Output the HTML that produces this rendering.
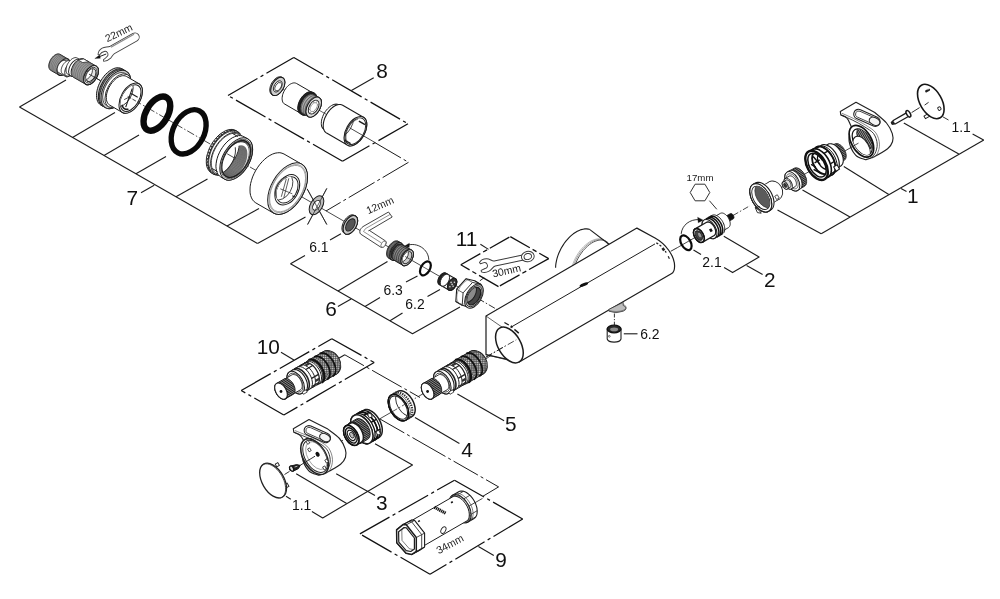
<!DOCTYPE html>
<html><head><meta charset="utf-8"><title>Exploded view</title>
<style>html,body{margin:0;padding:0;background:#fff;}svg{display:block;filter:blur(0.35px)}text{font-family:"Liberation Sans",sans-serif;}</style>
</head><body>
<svg width="1000" height="599" viewBox="0 0 1000 599">
<rect width="1000" height="599" fill="#fff"/>
<line x1="95.0" y1="77.5" x2="250.0" y2="167.0" stroke="#1c1c1c" stroke-width="0.8" stroke-dasharray="13 2.5 2 2.5" stroke-linecap="butt"/>
<line x1="250.0" y1="167.0" x2="478.0" y2="298.5" stroke="#1c1c1c" stroke-width="0.8" stroke-linecap="butt"/>
<line x1="478.0" y1="298.5" x2="497.0" y2="309.5" stroke="#1c1c1c" stroke-width="0.9" stroke-dasharray="7 2 1.5 2" stroke-linecap="butt"/>
<line x1="19.5" y1="107.0" x2="257.5" y2="243.5" stroke="#1c1c1c" stroke-width="1.12" stroke-linecap="butt"/>
<line x1="19.5" y1="107.0" x2="66.0" y2="80.0" stroke="#1c1c1c" stroke-width="1.12" stroke-linecap="butt"/>
<line x1="72.5" y1="137.4" x2="115.0" y2="112.5" stroke="#1c1c1c" stroke-width="1.12" stroke-linecap="butt"/>
<line x1="104.0" y1="155.5" x2="139.0" y2="135.0" stroke="#1c1c1c" stroke-width="1.12" stroke-linecap="butt"/>
<line x1="136.0" y1="173.8" x2="166.0" y2="156.5" stroke="#1c1c1c" stroke-width="1.12" stroke-linecap="butt"/>
<line x1="176.0" y1="196.8" x2="207.5" y2="179.0" stroke="#1c1c1c" stroke-width="1.12" stroke-linecap="butt"/>
<line x1="227.0" y1="226.0" x2="259.0" y2="208.5" stroke="#1c1c1c" stroke-width="1.12" stroke-linecap="butt"/>
<line x1="257.5" y1="243.5" x2="305.5" y2="217.0" stroke="#1c1c1c" stroke-width="1.12" stroke-linecap="butt"/>
<line x1="141.0" y1="192.8" x2="154.2" y2="185.3" stroke="#1c1c1c" stroke-width="1.12" stroke-linecap="butt"/>
<text x="132.2" y="204.6" font-size="20.8" fill="#111" text-anchor="middle" font-weight="normal">7</text>
<line x1="228.0" y1="95.5" x2="293.8" y2="57.5" stroke="#111" stroke-width="1.25" stroke-dasharray="34 3.6 3.2 3.6" stroke-dashoffset="0"/>
<line x1="293.8" y1="57.5" x2="408.0" y2="123.8" stroke="#111" stroke-width="1.25" stroke-dasharray="34 3.6 3.2 3.6" stroke-dashoffset="0"/>
<line x1="408.0" y1="123.8" x2="342.5" y2="161.2" stroke="#111" stroke-width="1.25" stroke-dasharray="34 3.6 3.2 3.6" stroke-dashoffset="0"/>
<line x1="342.5" y1="161.2" x2="228.0" y2="95.5" stroke="#111" stroke-width="1.25" stroke-dasharray="34 3.6 3.2 3.6" stroke-dashoffset="0"/>
<line x1="351.4" y1="90.5" x2="373.7" y2="77.8" stroke="#1c1c1c" stroke-width="1.12" stroke-linecap="butt"/>
<text x="382.1" y="78.4" font-size="20.8" fill="#111" text-anchor="middle" font-weight="normal">8</text>
<line x1="375.0" y1="142.7" x2="408.5" y2="162.3" stroke="#1c1c1c" stroke-width="1.0" stroke-dasharray="30 3.2 3 3.2" stroke-linecap="butt"/>
<line x1="408.5" y1="162.3" x2="326.0" y2="211.0" stroke="#1c1c1c" stroke-width="1.0" stroke-dasharray="30 3.2 3 3.2" stroke-linecap="butt"/>
<polyline points="290.5,263.8 412.5,333.8 460.0,307.0" fill="none" stroke="#1c1c1c" stroke-width="1.12" stroke-linejoin="round"/>
<line x1="290.5" y1="263.8" x2="305.0" y2="255.5" stroke="#1c1c1c" stroke-width="1.12" stroke-linecap="butt"/>
<line x1="330.0" y1="240.0" x2="341.0" y2="233.8" stroke="#1c1c1c" stroke-width="1.12" stroke-linecap="butt"/>
<text x="318.9" y="251.7" font-size="13.9" fill="#111" text-anchor="middle" font-weight="normal">6.1</text>
<line x1="338.0" y1="291.0" x2="387.5" y2="261.5" stroke="#1c1c1c" stroke-width="1.12" stroke-linecap="butt"/>
<line x1="365.0" y1="306.5" x2="380.0" y2="297.5" stroke="#1c1c1c" stroke-width="1.12" stroke-linecap="butt"/>
<line x1="406.0" y1="282.0" x2="417.5" y2="276.0" stroke="#1c1c1c" stroke-width="1.12" stroke-linecap="butt"/>
<text x="393.2" y="295.2" font-size="13.9" fill="#111" text-anchor="middle" font-weight="normal">6.3</text>
<line x1="390.0" y1="320.8" x2="402.5" y2="313.0" stroke="#1c1c1c" stroke-width="1.12" stroke-linecap="butt"/>
<line x1="427.5" y1="296.5" x2="440.0" y2="289.5" stroke="#1c1c1c" stroke-width="1.12" stroke-linecap="butt"/>
<text x="415.0" y="308.5" font-size="13.9" fill="#111" text-anchor="middle" font-weight="normal">6.2</text>
<line x1="337.9" y1="306.6" x2="351.1" y2="299.1" stroke="#1c1c1c" stroke-width="1.12" stroke-linecap="butt"/>
<text x="331.0" y="316.0" font-size="20.8" fill="#111" text-anchor="middle" font-weight="normal">6</text>
<line x1="460.8" y1="264.8" x2="510.3" y2="236.6" stroke="#111" stroke-width="1.25" stroke-dasharray="22.5 3.2 4.5 3.2" stroke-dashoffset="0"/>
<line x1="510.3" y1="236.6" x2="548.7" y2="258.6" stroke="#111" stroke-width="1.25" stroke-dasharray="22.5 3.2 4.5 3.2" stroke-dashoffset="0"/>
<line x1="548.7" y1="258.6" x2="498.5" y2="286.6" stroke="#111" stroke-width="1.25" stroke-dasharray="22.5 3.2 4.5 3.2" stroke-dashoffset="0"/>
<line x1="498.5" y1="286.6" x2="460.8" y2="264.8" stroke="#111" stroke-width="1.25" stroke-dasharray="22.5 3.2 4.5 3.2" stroke-dashoffset="0"/>
<line x1="480.4" y1="244.2" x2="488.5" y2="249.4" stroke="#1c1c1c" stroke-width="1.12" stroke-linecap="butt"/>
<text x="466.6" y="246.0" font-size="20.8" fill="#111" text-anchor="middle" font-weight="normal">11</text>
<text x="507.4" y="274.3" font-size="10.5" fill="#1a1a1a" text-anchor="middle" font-weight="normal" transform="rotate(-13 507.4 274.3)">30mm</text>
<polyline points="723.8,236.2 759.1,257.0 732.6,272.6 724.1,267.6" fill="none" stroke="#1c1c1c" stroke-width="1.12" stroke-linejoin="round"/>
<line x1="701.0" y1="254.5" x2="693.5" y2="250.0" stroke="#1c1c1c" stroke-width="1.12" stroke-linecap="butt"/>
<text x="712.0" y="266.6" font-size="13.9" fill="#111" text-anchor="middle" font-weight="normal">2.1</text>
<line x1="746.6" y1="265.6" x2="762.6" y2="274.6" stroke="#1c1c1c" stroke-width="1.12" stroke-linecap="butt"/>
<text x="769.7" y="287.1" font-size="20.8" fill="#111" text-anchor="middle" font-weight="normal">2</text>
<line x1="821.2" y1="233.8" x2="983.8" y2="140.0" stroke="#1c1c1c" stroke-width="1.12" stroke-linecap="butt"/>
<line x1="777.5" y1="210.0" x2="821.2" y2="233.8" stroke="#1c1c1c" stroke-width="1.12" stroke-linecap="butt"/>
<line x1="802.5" y1="190.0" x2="850.0" y2="217.0" stroke="#1c1c1c" stroke-width="1.12" stroke-linecap="butt"/>
<line x1="843.8" y1="166.5" x2="888.8" y2="194.5" stroke="#1c1c1c" stroke-width="1.12" stroke-linecap="butt"/>
<line x1="903.8" y1="122.9" x2="958.8" y2="154.1" stroke="#1c1c1c" stroke-width="1.12" stroke-linecap="butt"/>
<line x1="983.6" y1="140.0" x2="972.6" y2="133.9" stroke="#1c1c1c" stroke-width="1.12" stroke-linecap="butt"/>
<text x="961.1" y="131.6" font-size="13.9" fill="#111" text-anchor="middle" font-weight="normal">1.1</text>
<line x1="901.0" y1="188.6" x2="906.5" y2="191.4" stroke="#1c1c1c" stroke-width="1.12" stroke-linecap="butt"/>
<text x="912.9" y="202.8" font-size="20.8" fill="#111" text-anchor="middle" font-weight="normal">1</text>
<text x="700.0" y="181.0" font-size="9.7" fill="#1a1a1a" text-anchor="middle" font-weight="normal">17mm</text>
<polygon points="690.2,192.5 695.1,184.2 704.9,184.2 709.8,192.5 704.9,200.8 695.1,200.8" fill="none" stroke="#333" stroke-width="1.0" stroke-linejoin="round"/>
<line x1="709.4" y1="200.7" x2="716.8" y2="209.3" stroke="#333" stroke-width="1.0" stroke-linecap="butt"/>
<line x1="623.8" y1="333.8" x2="637.5" y2="333.8" stroke="#1c1c1c" stroke-width="1.12" stroke-linecap="butt"/>
<text x="649.8" y="338.8" font-size="13.9" fill="#111" text-anchor="middle" font-weight="normal">6.2</text>
<line x1="241.2" y1="390.5" x2="331.8" y2="338.8" stroke="#111" stroke-width="1.25" stroke-dasharray="34 3.6 3.2 3.6" stroke-dashoffset="0"/>
<line x1="331.8" y1="338.8" x2="374.2" y2="362.5" stroke="#111" stroke-width="1.25" stroke-dasharray="34 3.6 3.2 3.6" stroke-dashoffset="0"/>
<line x1="374.2" y1="362.5" x2="283.8" y2="415.0" stroke="#111" stroke-width="1.25" stroke-dasharray="34 3.6 3.2 3.6" stroke-dashoffset="0"/>
<line x1="283.8" y1="415.0" x2="241.2" y2="390.5" stroke="#111" stroke-width="1.25" stroke-dasharray="34 3.6 3.2 3.6" stroke-dashoffset="0"/>
<line x1="281.0" y1="352.2" x2="293.9" y2="360.1" stroke="#1c1c1c" stroke-width="1.12" stroke-linecap="butt"/>
<text x="268.3" y="354.4" font-size="20.8" fill="#111" text-anchor="middle" font-weight="normal">10</text>
<polyline points="338.3,358.4 344.8,354.8" fill="none" stroke="#1c1c1c" stroke-width="1.12" stroke-linejoin="round"/>
<line x1="344.8" y1="354.8" x2="420.0" y2="397.5" stroke="#1c1c1c" stroke-width="1.0" stroke-dasharray="22 3.2 3 3.2 34 3.2 3 3.2" stroke-linecap="butt"/>
<polyline points="375.0,443.8 412.5,465.0 322.7,517.9 311.9,511.5" fill="none" stroke="#1c1c1c" stroke-width="1.12" stroke-linejoin="round"/>
<line x1="290.8" y1="499.2" x2="286.0" y2="496.2" stroke="#1c1c1c" stroke-width="1.12" stroke-linecap="butt"/>
<text x="301.6" y="509.5" font-size="13.9" fill="#111" text-anchor="middle" font-weight="normal">1.1</text>
<line x1="296.2" y1="473.8" x2="346.7" y2="503.4" stroke="#1c1c1c" stroke-width="1.12" stroke-linecap="butt"/>
<line x1="336.2" y1="473.8" x2="375.0" y2="495.6" stroke="#1c1c1c" stroke-width="1.12" stroke-linecap="butt"/>
<text x="381.9" y="509.5" font-size="20.8" fill="#111" text-anchor="middle" font-weight="normal">3</text>
<line x1="415.0" y1="417.5" x2="459.4" y2="443.4" stroke="#1c1c1c" stroke-width="1.12" stroke-linecap="butt"/>
<text x="467.0" y="457.4" font-size="20.8" fill="#111" text-anchor="middle" font-weight="normal">4</text>
<line x1="457.4" y1="394.0" x2="504.1" y2="420.7" stroke="#1c1c1c" stroke-width="1.12" stroke-linecap="butt"/>
<text x="510.9" y="430.7" font-size="20.8" fill="#111" text-anchor="middle" font-weight="normal">5</text>
<line x1="380.0" y1="419.0" x2="498.6" y2="486.9" stroke="#1c1c1c" stroke-width="1.0" stroke-dasharray="28 3.2 3 3.2 38 3.2 3 3.2" stroke-linecap="butt"/>
<line x1="498.6" y1="486.9" x2="483.0" y2="496.2" stroke="#1c1c1c" stroke-width="1.0" stroke-linecap="butt"/>
<line x1="359.9" y1="533.9" x2="454.5" y2="480.2" stroke="#111" stroke-width="1.25" stroke-dasharray="34 3.6 3.2 3.6" stroke-dashoffset="0"/>
<line x1="454.5" y1="480.2" x2="522.7" y2="519.0" stroke="#111" stroke-width="1.25" stroke-dasharray="34 3.6 3.2 3.6" stroke-dashoffset="0"/>
<line x1="522.7" y1="519.0" x2="430.0" y2="574.3" stroke="#111" stroke-width="1.25" stroke-dasharray="34 3.6 3.2 3.6" stroke-dashoffset="0"/>
<line x1="430.0" y1="574.3" x2="359.9" y2="533.9" stroke="#111" stroke-width="1.25" stroke-dasharray="34 3.6 3.2 3.6" stroke-dashoffset="0"/>
<line x1="478.4" y1="546.5" x2="493.8" y2="555.6" stroke="#1c1c1c" stroke-width="1.12" stroke-linecap="butt"/>
<text x="501.0" y="567.1" font-size="20.8" fill="#111" text-anchor="middle" font-weight="normal">9</text>
<text x="451.6" y="547.3" font-size="10.5" fill="#1a1a1a" text-anchor="middle" font-weight="normal" transform="rotate(-28 451.6 547.3)">34mm</text>
<polygon points="556.4,273.7 556.0,271.8 555.7,269.9 555.6,267.8 555.7,265.7 556.0,263.5 556.4,261.2 556.9,258.9 557.6,256.5 558.4,254.2 559.4,251.9 560.5,249.5 561.8,247.3 563.1,245.1 564.5,243.0 566.1,241.0 567.7,239.1 569.4,237.3 571.1,235.7 572.9,234.2 574.7,232.9 576.5,231.7 578.3,230.8 580.1,230.0 581.9,229.4 583.6,229.0 585.3,228.9 586.9,228.9 588.5,229.2 589.9,229.6 591.2,230.3 609.0,244.2 556.0,274.5" fill="#fff" stroke="none" stroke-width="0" stroke-linejoin="round"/>
<polyline points="573.3,272.1 573.8,269.4 574.6,266.6 575.5,263.8 576.7,261.0 578.1,258.2 579.6,255.6 581.4,253.0 583.2,250.6 585.2,248.4 587.3,246.4 589.4,244.6 591.6,243.1 593.7,241.9 595.9,241.0 598.0,240.3 600.1,240.0 602.0,240.0 603.9,240.3 605.5,241.0 607.1,241.9 608.4,243.1 609.5,244.6 610.4,246.4 611.1,248.4" fill="none" stroke="#444" stroke-width="0.9" stroke-linejoin="round"/>
<polyline points="572.2,271.5 572.7,268.9 573.4,266.2 574.3,263.5 575.4,260.7 576.7,258.1 578.2,255.5 579.9,253.0 581.6,250.6 583.5,248.4 585.5,246.4 587.5,244.6 589.6,243.1 591.7,241.8 593.8,240.8 595.9,240.0 597.9,239.6 599.9,239.4 601.7,239.5 603.4,240.0 605.0,240.7 606.4,241.7 607.6,242.9 608.7,244.5 609.5,246.2" fill="none" stroke="#777" stroke-width="0.7" stroke-linejoin="round"/>
<polyline points="571.2,270.9 571.7,268.4 572.4,265.8 573.2,263.1 574.3,260.5 575.5,257.9 576.9,255.4 578.5,252.9 580.1,250.6 581.9,248.5 583.8,246.5 585.8,244.7 587.8,243.1 589.8,241.7 591.9,240.6 593.9,239.8 595.9,239.2 597.8,238.8 599.6,238.8 601.4,239.0 603.0,239.6 604.4,240.3 605.8,241.4 606.9,242.7 607.9,244.2" fill="none" stroke="#888" stroke-width="0.6" stroke-linejoin="round"/>
<polyline points="555.6,267.8 555.7,265.5 556.0,263.1 556.5,260.6 557.1,258.1 557.9,255.6 558.9,253.0 560.1,250.5 561.3,248.0 562.8,245.6 564.3,243.3 565.9,241.1 567.7,239.1 569.5,237.1 571.4,235.4 573.3,233.8 575.3,232.5 577.3,231.3 579.2,230.4 581.2,229.6 583.1,229.2 584.9,228.9 586.7,228.9 588.3,229.1 589.9,229.6" fill="none" stroke="#1c1c1c" stroke-width="1.1" stroke-linejoin="round"/>
<line x1="589.9" y1="229.6" x2="609.0" y2="244.2" stroke="#1c1c1c" stroke-width="1.1" stroke-linecap="butt"/>
<path d="M486,316 L636.9,228.1 L655,238 C666,244 674.5,256 674.6,266 C674.6,270 673,273 671.3,273.8 L519.2,362.0 L486,354.7 Z" fill="#fff" stroke="#1c1c1c" stroke-width="1.2" stroke-linejoin="round" stroke-linecap="round" />
<line x1="486.0" y1="316.0" x2="502.6" y2="327.5" stroke="#1c1c1c" stroke-width="0.7" stroke-linecap="butt"/>
<line x1="486.0" y1="354.7" x2="517.2" y2="362.3" stroke="#1c1c1c" stroke-width="0.7" stroke-linecap="butt"/>
<line x1="512.5" y1="326.3" x2="655.0" y2="243.9" stroke="#1c1c1c" stroke-width="1.0" stroke-linecap="butt"/>
<ellipse cx="509.4" cy="345.0" rx="11.31" ry="19.60" transform="rotate(-30 509.4 345.0)" fill="#fff" stroke="#1c1c1c" stroke-width="1.5" />
<line x1="486.0" y1="357.0" x2="516.3" y2="339.8" stroke="#1c1c1c" stroke-width="0.8" stroke-dasharray="7 2 1.5 2" stroke-linecap="butt"/>
<line x1="504.4" y1="322.5" x2="508.8" y2="325.0" stroke="#1c1c1c" stroke-width="1.4" stroke-linecap="butt"/>
<line x1="510.6" y1="326.2" x2="512.6" y2="327.2" stroke="#1c1c1c" stroke-width="2.4" stroke-linecap="butt"/>
<line x1="514.4" y1="329.4" x2="518.8" y2="333.1" stroke="#1c1c1c" stroke-width="1.4" stroke-linecap="butt"/>
<line x1="656.3" y1="242.8" x2="658.2" y2="243.8" stroke="#222" stroke-width="1.3" stroke-linecap="butt"/>
<line x1="659.5" y1="245.0" x2="661.3" y2="246.3" stroke="#222" stroke-width="1.3" stroke-linecap="butt"/>
<line x1="662.5" y1="248.0" x2="664.2" y2="250.5" stroke="#222" stroke-width="2.6" stroke-linecap="butt"/>
<line x1="665.2" y1="251.0" x2="666.2" y2="252.6" stroke="#222" stroke-width="1.2" stroke-linecap="butt"/>
<line x1="668.2" y1="256.3" x2="669.4" y2="258.8" stroke="#222" stroke-width="1.2" stroke-linecap="butt"/>
<ellipse cx="583.8" cy="284.6" rx="4.6" ry="1.5" transform="rotate(-22 583.8 284.6)" fill="#111"/>
<line x1="670.7" y1="251.3" x2="677.6" y2="247.5" stroke="#1c1c1c" stroke-width="0.9" stroke-linecap="butt"/>
<path d="M608.8,309.4 L608.9,311.2 A7.3,3 0 0 0 623.2,305.4 L623.2,302.3 Z" fill="#bdbdbd" stroke="#333" stroke-width="0.8"/>
<path d="M608.9,310.3 A7.3,3 0 0 0 623.2,304.4" fill="none" stroke="#555" stroke-width="0.6"/>
<line x1="614.4" y1="313.5" x2="614.4" y2="325.0" stroke="#1c1c1c" stroke-width="0.9" stroke-dasharray="4 1.5 1.2 1.5" stroke-linecap="butt"/>
<path d="M607.2,329 L607.2,339 A7,3.8 0 0 0 621,339 L621,329 Z" fill="#fff" stroke="#222" stroke-width="1.1"/>
<ellipse cx="614.1" cy="329" rx="6.9" ry="3.8" fill="#2a2a2a" stroke="#111" stroke-width="1.3"/>
<ellipse cx="614.1" cy="329.4" rx="4.0" ry="1.8" fill="#8a8a8a" stroke="none"/>
<circle cx="609.3" cy="336.3" r="0.9" fill="none" stroke="#222" stroke-width="0.6"/>
<polygon points="59.9,54.3 59.3,54.1 58.6,53.9 57.8,53.9 57.0,54.1 56.2,54.4 55.3,54.8 54.5,55.3 53.6,56.0 52.8,56.8 52.1,57.7 51.3,58.6 50.7,59.6 50.1,60.7 49.7,61.8 49.3,62.9 49.0,64.0 48.9,65.0 48.8,66.1 48.9,67.0 49.0,67.9 49.3,68.6 49.7,69.3 50.1,69.9 50.7,70.3 58.9,75.0 59.6,75.3 60.3,75.4 61.0,75.4 61.8,75.3 62.7,75.0 63.5,74.6 64.4,74.0 65.2,73.3 66.0,72.6 66.8,71.7 67.5,70.7 68.1,69.7 68.7,68.6 69.2,67.6 69.5,66.5 69.8,65.4 70.0,64.3 70.0,63.3 70.0,62.3 69.8,61.5 69.5,60.7 69.2,60.0 68.7,59.5 68.1,59.1" fill="#9a9a9a" stroke="#1c1c1c" stroke-width="1.0" stroke-linejoin="round"/>
<ellipse cx="63.5" cy="67.0" rx="5.31" ry="9.20" transform="rotate(30 63.5 67.0)" fill="#9a9a9a" stroke="#1c1c1c" stroke-width="1.0" />
<polyline points="51.4,70.7 50.4,69.7 49.7,68.3 49.5,66.5 49.7,64.4 50.4,62.2 51.4,60.0 52.7,58.1 54.3,56.4 56.0,55.2 57.7,54.5 59.2,54.3 60.6,54.7" fill="none" stroke="#555" stroke-width="0.5" stroke-linejoin="round"/>
<polyline points="52.8,71.5 51.7,70.5 51.1,69.1 50.9,67.2 51.1,65.2 51.7,63.0 52.8,60.8 54.1,58.9 55.7,57.2 57.4,56.0 59.0,55.3 60.6,55.1 62.0,55.5" fill="none" stroke="#555" stroke-width="0.5" stroke-linejoin="round"/>
<polyline points="54.1,72.2 53.1,71.3 52.4,69.9 52.2,68.0 52.4,66.0 53.1,63.8 54.1,61.6 55.5,59.7 57.0,58.0 58.7,56.8 60.4,56.1 62.0,55.9 63.3,56.3" fill="none" stroke="#555" stroke-width="0.5" stroke-linejoin="round"/>
<polyline points="55.5,73.0 54.5,72.1 53.8,70.6 53.6,68.8 53.8,66.8 54.5,64.6 55.5,62.4 56.8,60.4 58.4,58.8 60.1,57.6 61.8,56.8 63.4,56.7 64.7,57.1" fill="none" stroke="#555" stroke-width="0.5" stroke-linejoin="round"/>
<polyline points="56.9,73.8 55.8,72.9 55.2,71.4 55.0,69.6 55.2,67.5 55.8,65.4 56.9,63.2 58.2,61.2 59.8,59.6 61.5,58.4 63.2,57.6 64.7,57.5 66.1,57.9" fill="none" stroke="#555" stroke-width="0.5" stroke-linejoin="round"/>
<polyline points="58.2,74.6 57.2,73.7 56.6,72.2 56.3,70.4 56.6,68.3 57.2,66.2 58.2,64.0 59.6,62.0 61.2,60.4 62.8,59.1 64.5,58.4 66.1,58.3 67.4,58.7" fill="none" stroke="#555" stroke-width="0.5" stroke-linejoin="round"/>
<polygon points="65.4,60.7 64.9,60.5 64.4,60.4 63.8,60.4 63.2,60.5 62.6,60.7 62.0,61.0 61.4,61.5 60.8,62.0 60.2,62.5 59.6,63.2 59.1,63.9 58.6,64.6 58.2,65.4 57.8,66.2 57.6,67.0 57.4,67.8 57.2,68.6 57.2,69.4 57.2,70.1 57.4,70.7 57.6,71.3 57.8,71.8 58.2,72.2 58.6,72.5 65.5,76.5 66.0,76.7 66.5,76.8 67.1,76.8 67.7,76.7 68.3,76.5 68.9,76.2 69.6,75.7 70.2,75.2 70.8,74.7 71.3,74.0 71.9,73.3 72.3,72.6 72.7,71.8 73.1,71.0 73.4,70.2 73.6,69.4 73.7,68.6 73.7,67.8 73.7,67.1 73.6,66.5 73.4,65.9 73.1,65.4 72.7,65.0 72.3,64.7" fill="#fff" stroke="#1c1c1c" stroke-width="0.8" stroke-linejoin="round"/>
<ellipse cx="68.9" cy="70.6" rx="3.92" ry="6.80" transform="rotate(30 68.9 70.6)" fill="#fff" stroke="#1c1c1c" stroke-width="0.8" />
<polygon points="70.2,60.9 69.7,60.7 69.2,60.6 68.5,60.6 67.9,60.7 67.2,60.9 66.5,61.3 65.8,61.7 65.1,62.3 64.5,62.9 63.9,63.6 63.3,64.4 62.8,65.2 62.3,66.1 61.9,67.0 61.6,67.9 61.4,68.8 61.2,69.6 61.2,70.5 61.2,71.2 61.4,71.9 61.6,72.6 61.9,73.1 62.3,73.6 62.8,73.9 66.2,75.9 66.7,76.1 67.3,76.2 67.9,76.2 68.6,76.1 69.3,75.9 70.0,75.5 70.7,75.1 71.3,74.5 72.0,73.9 72.6,73.2 73.2,72.4 73.7,71.6 74.2,70.7 74.6,69.8 74.9,68.9 75.1,68.0 75.2,67.2 75.3,66.3 75.2,65.6 75.1,64.9 74.9,64.2 74.6,63.7 74.2,63.2 73.7,62.9" fill="#fff" stroke="#1c1c1c" stroke-width="0.8" stroke-linejoin="round"/>
<ellipse cx="70.0" cy="69.4" rx="4.33" ry="7.50" transform="rotate(30 70.0 69.4)" fill="#fff" stroke="#1c1c1c" stroke-width="0.8" />
<polygon points="77.3,58.1 76.6,57.8 75.9,57.6 75.1,57.6 74.3,57.8 73.5,58.1 72.6,58.5 71.7,59.1 70.9,59.8 70.1,60.6 69.3,61.5 68.6,62.4 67.9,63.5 67.3,64.6 66.8,65.7 66.5,66.8 66.2,67.9 66.0,69.0 66.0,70.0 66.0,71.0 66.2,71.9 66.5,72.7 66.8,73.4 67.3,73.9 67.9,74.3 70.5,75.8 71.2,76.1 71.9,76.3 72.7,76.3 73.5,76.1 74.3,75.8 75.2,75.4 76.1,74.8 76.9,74.1 77.7,73.3 78.5,72.4 79.2,71.5 79.9,70.4 80.5,69.3 81.0,68.2 81.3,67.1 81.6,66.0 81.8,64.9 81.8,63.9 81.8,62.9 81.6,62.0 81.3,61.2 81.0,60.5 80.5,60.0 79.9,59.6" fill="#fff" stroke="#1c1c1c" stroke-width="0.9" stroke-linejoin="round"/>
<ellipse cx="75.2" cy="67.7" rx="5.42" ry="9.40" transform="rotate(30 75.2 67.7)" fill="#fff" stroke="#1c1c1c" stroke-width="0.9" />
<polygon points="83.8,59.0 83.1,58.7 82.3,58.5 81.4,58.5 80.5,58.7 79.6,59.0 78.6,59.5 77.6,60.1 76.7,60.9 75.8,61.8 74.9,62.8 74.1,63.9 73.4,65.0 72.7,66.2 72.2,67.5 71.7,68.7 71.4,70.0 71.2,71.2 71.2,72.4 71.2,73.4 71.4,74.4 71.7,75.3 72.2,76.1 72.7,76.7 73.3,77.2 85.8,84.3 86.5,84.6 87.3,84.8 88.2,84.8 89.1,84.6 90.0,84.3 91.0,83.8 92.0,83.2 92.9,82.4 93.8,81.5 94.7,80.5 95.5,79.4 96.2,78.3 96.9,77.0 97.4,75.8 97.9,74.5 98.2,73.3 98.4,72.1 98.4,70.9 98.4,69.9 98.2,68.9 97.9,68.0 97.4,67.2 96.9,66.6 96.2,66.1" fill="#9a9a9a" stroke="#1c1c1c" stroke-width="1.0" stroke-linejoin="round"/>
<ellipse cx="91.0" cy="75.2" rx="6.06" ry="10.50" transform="rotate(30 91.0 75.2)" fill="#9a9a9a" stroke="#1c1c1c" stroke-width="1.0" />
<polyline points="74.2,77.7 73.1,76.6 72.3,74.9 72.1,72.9 72.3,70.5 73.1,68.0 74.2,65.5 75.8,63.3 77.6,61.4 79.5,60.0 81.4,59.2 83.2,59.0 84.7,59.5" fill="none" stroke="#555" stroke-width="0.5" stroke-linejoin="round"/>
<polyline points="76.0,78.7 74.8,77.6 74.1,76.0 73.8,73.9 74.1,71.5 74.8,69.0 76.0,66.6 77.5,64.3 79.3,62.4 81.3,61.0 83.2,60.2 85.0,60.0 86.5,60.5" fill="none" stroke="#555" stroke-width="0.5" stroke-linejoin="round"/>
<polyline points="77.8,79.7 76.6,78.6 75.9,77.0 75.6,74.9 75.9,72.5 76.6,70.0 77.8,67.6 79.3,65.3 81.1,63.4 83.0,62.0 85.0,61.2 86.7,61.1 88.3,61.5" fill="none" stroke="#555" stroke-width="0.5" stroke-linejoin="round"/>
<polyline points="79.5,80.7 78.4,79.6 77.6,78.0 77.4,75.9 77.6,73.6 78.4,71.1 79.6,68.6 81.1,66.4 82.9,64.5 84.8,63.1 86.7,62.3 88.5,62.1 90.0,62.5" fill="none" stroke="#555" stroke-width="0.5" stroke-linejoin="round"/>
<polyline points="81.3,81.8 80.1,80.7 79.4,79.0 79.1,77.0 79.4,74.6 80.1,72.1 81.3,69.6 82.9,67.4 84.7,65.5 86.6,64.1 88.5,63.3 90.3,63.1 91.8,63.6" fill="none" stroke="#555" stroke-width="0.5" stroke-linejoin="round"/>
<polyline points="83.1,82.8 81.9,81.7 81.2,80.0 80.9,78.0 81.2,75.6 81.9,73.1 83.1,70.7 84.6,68.4 86.4,66.5 88.3,65.1 90.3,64.3 92.1,64.1 93.6,64.6" fill="none" stroke="#555" stroke-width="0.5" stroke-linejoin="round"/>
<polyline points="84.9,83.8 83.7,82.7 82.9,81.1 82.7,79.0 82.9,76.6 83.7,74.1 84.9,71.7 86.4,69.4 88.2,67.5 90.1,66.1 92.0,65.3 93.8,65.1 95.4,65.6" fill="none" stroke="#555" stroke-width="0.5" stroke-linejoin="round"/>
<polygon points="83.8,59.0 78.0,59.9 82.7,62.6 88.6,61.7" fill="#fff" stroke="#1c1c1c" stroke-width="0.7" stroke-linejoin="round"/>
<ellipse cx="91.0" cy="75.2" rx="6.06" ry="10.50" transform="rotate(30 91.0 75.2)" fill="#eee" stroke="#1c1c1c" stroke-width="1.0" />
<ellipse cx="91.0" cy="75.2" rx="4.96" ry="8.60" transform="rotate(30 91.0 75.2)" fill="#fff" stroke="#1c1c1c" stroke-width="0.8" />
<ellipse cx="91.0" cy="75.2" rx="4.04" ry="7.00" transform="rotate(30 91.0 75.2)" fill="#e4e4e4" stroke="#1c1c1c" stroke-width="0.9" />
<clipPath id="cp1"><ellipse cx="91.0" cy="75.2" rx="4.04" ry="7.00" transform="rotate(30 91.0 75.2)"/></clipPath>
<g clip-path="url(#cp1)"><ellipse cx="87.5" cy="73.2" rx="4.04" ry="7.00" transform="rotate(30 87.5 73.2)" fill="#fff" stroke="#1c1c1c" stroke-width="0.7200000000000001"/></g>
<line x1="89.0" y1="74.1" x2="100.0" y2="80.4" stroke="#1c1c1c" stroke-width="0.8" stroke-linecap="butt"/>
<g transform="translate(105.4,53.8) rotate(-29.4)" fill="#fff" stroke="#444" stroke-width="0.9" stroke-linejoin="round">
<path d="M34,-4.2 L8,-4.2 C5,-4.6 3,-6.5 0,-6.6 C-3,-6.6 -5.5,-5 -6.8,-3 L-5.8,-1.8 C-4,-2.8 -1,-3 0.8,-2.4 C2.6,-1.6 2.8,1 1.6,2.4 C0.4,3.6 -3,4 -4.6,4.2 L-5.2,5.8 C-3,7 0,7 2.5,6.4 C5,5.6 6,4.4 8,4.2 L34,4.2 A4.2,4.2 0 0 0 34,-4.2 Z"/>
<path d="M8,-3.0 L34.5,-3.0" stroke="#8a8a8a" stroke-width="1.3" fill="none"/>
</g>
<line x1="106.2" y1="54.0" x2="98.5" y2="57.0" stroke="#222" stroke-width="1.0" stroke-linecap="butt"/>
<polygon points="94.8,58.6 99.6,54.9 100.4,58.2" fill="#111" stroke="#1c1c1c" stroke-width="0.3" stroke-linejoin="round"/>
<text x="120.3" y="36.0" font-size="10.4" fill="#1a1a1a" text-anchor="middle" font-weight="normal" transform="rotate(-25.5 120.3 36.0)">22mm</text>
<polygon points="121.8,68.7 120.3,68.1 118.7,67.8 117.0,67.8 115.1,68.1 113.2,68.8 111.3,69.8 109.4,71.0 107.5,72.6 105.6,74.3 103.9,76.3 102.3,78.5 100.8,80.8 99.5,83.3 98.4,85.8 97.6,88.3 97.0,90.7 96.6,93.2 96.5,95.5 96.6,97.6 97.0,99.6 97.6,101.4 98.4,102.9 99.5,104.1 100.8,105.1 102.7,106.2 104.2,106.8 105.8,107.1 107.5,107.1 109.4,106.8 111.3,106.1 113.2,105.1 115.1,103.9 117.0,102.3 118.9,100.6 120.6,98.6 122.2,96.4 123.7,94.1 125.0,91.6 126.1,89.1 126.9,86.6 127.5,84.2 127.9,81.7 128.0,79.4 127.9,77.3 127.5,75.3 126.9,73.5 126.1,72.0 125.0,70.8 123.7,69.8" fill="#ccc" stroke="#1c1c1c" stroke-width="1.0" stroke-linejoin="round"/>
<ellipse cx="113.2" cy="88.0" rx="12.12" ry="21.00" transform="rotate(30 113.2 88.0)" fill="#ccc" stroke="#1c1c1c" stroke-width="1.0" />
<polygon points="123.0,71.1 121.6,70.5 120.1,70.2 118.5,70.2 116.8,70.6 115.0,71.2 113.2,72.1 111.4,73.3 109.6,74.7 107.9,76.3 106.3,78.2 104.8,80.2 103.5,82.4 102.3,84.6 101.3,86.9 100.5,89.3 99.9,91.6 99.5,93.8 99.4,96.0 99.5,98.0 99.9,99.8 100.5,101.4 101.3,102.9 102.3,104.0 103.5,104.9 104.8,105.6 106.1,106.2 107.6,106.5 109.2,106.5 110.9,106.2 112.7,105.6 114.5,104.7 116.3,103.5 118.1,102.1 119.8,100.4 121.4,98.6 122.9,96.5 124.2,94.4 125.4,92.1 126.4,89.8 127.2,87.5 127.8,85.2 128.2,82.9 128.3,80.8 128.2,78.8 127.8,76.9 127.2,75.3 126.4,73.9 125.4,72.7 124.3,71.9" fill="#ddd" stroke="#1c1c1c" stroke-width="0.7" stroke-linejoin="round"/>
<ellipse cx="114.5" cy="88.8" rx="11.25" ry="19.50" transform="rotate(30 114.5 88.8)" fill="#ddd" stroke="#1c1c1c" stroke-width="0.7" />
<polygon points="125.0,70.6 123.5,69.9 121.9,69.6 120.2,69.6 118.4,70.0 116.4,70.6 114.5,71.6 112.6,72.9 110.7,74.4 108.8,76.2 107.1,78.2 105.5,80.4 104.0,82.7 102.7,85.1 101.7,87.6 100.8,90.1 100.2,92.6 99.8,95.0 99.7,97.3 99.8,99.5 100.2,101.5 100.8,103.2 101.6,104.7 102.7,106.0 104.0,106.9 105.4,107.7 106.8,108.4 108.5,108.7 110.2,108.7 112.0,108.3 113.9,107.7 115.9,106.7 117.8,105.4 119.7,103.9 121.6,102.1 123.3,100.1 124.9,97.9 126.4,95.6 127.7,93.2 128.7,90.7 129.6,88.2 130.2,85.7 130.6,83.3 130.7,81.0 130.6,78.8 130.2,76.8 129.6,75.1 128.7,73.6 127.7,72.3 126.4,71.4" fill="#ccc" stroke="#1c1c1c" stroke-width="0.9" stroke-linejoin="round"/>
<ellipse cx="115.9" cy="89.5" rx="12.12" ry="21.00" transform="rotate(30 115.9 89.5)" fill="#ccc" stroke="#1c1c1c" stroke-width="0.9" />
<polygon points="125.2,73.4 123.9,72.9 122.5,72.6 120.9,72.6 119.3,72.9 117.6,73.5 115.9,74.4 114.2,75.5 112.5,76.8 110.9,78.4 109.3,80.2 107.9,82.1 106.6,84.2 105.5,86.3 104.5,88.5 103.7,90.8 103.2,93.0 102.9,95.1 102.7,97.1 102.9,99.1 103.2,100.8 103.7,102.4 104.5,103.7 105.5,104.8 106.6,105.7 108.8,106.9 110.0,107.5 111.5,107.7 113.0,107.7 114.6,107.4 116.3,106.8 118.1,106.0 119.8,104.9 121.5,103.5 123.1,101.9 124.6,100.2 126.1,98.2 127.3,96.2 128.5,94.0 129.4,91.8 130.2,89.6 130.8,87.4 131.1,85.3 131.2,83.2 131.1,81.3 130.8,79.5 130.2,78.0 129.4,76.6 128.5,75.5 127.4,74.7" fill="#fff" stroke="#1c1c1c" stroke-width="0.8" stroke-linejoin="round"/>
<ellipse cx="118.1" cy="90.8" rx="10.73" ry="18.60" transform="rotate(30 118.1 90.8)" fill="#fff" stroke="#1c1c1c" stroke-width="0.8" />
<polygon points="126.4,76.4 125.2,75.9 123.9,75.7 122.5,75.7 121.1,76.0 119.6,76.5 118.1,77.2 116.5,78.2 115.0,79.5 113.6,80.9 112.2,82.5 110.9,84.2 109.8,86.0 108.7,87.9 107.9,89.9 107.2,91.9 106.7,93.8 106.4,95.8 106.3,97.6 106.4,99.3 106.7,100.9 107.2,102.2 107.9,103.4 108.7,104.4 109.8,105.2 122.4,112.5 123.6,113.0 124.8,113.2 126.2,113.2 127.7,112.9 129.2,112.4 130.7,111.7 132.2,110.7 133.7,109.4 135.2,108.0 136.6,106.4 137.8,104.7 139.0,102.9 140.0,101.0 140.9,99.0 141.5,97.0 142.0,95.1 142.3,93.1 142.4,91.3 142.3,89.6 142.0,88.0 141.5,86.7 140.9,85.5 140.0,84.5 139.0,83.7" fill="#fff" stroke="#1c1c1c" stroke-width="1.0" stroke-linejoin="round"/>
<ellipse cx="130.7" cy="98.1" rx="9.58" ry="16.60" transform="rotate(30 130.7 98.1)" fill="#fff" stroke="#1c1c1c" stroke-width="1.0" />
<ellipse cx="130.7" cy="98.1" rx="8.42" ry="14.60" transform="rotate(30 130.7 98.1)" fill="#fff" stroke="#1c1c1c" stroke-width="1.0" />
<clipPath id="cp2"><ellipse cx="130.7" cy="98.1" rx="8.42" ry="14.60" transform="rotate(30 130.7 98.1)"/></clipPath>
<g clip-path="url(#cp2)"><ellipse cx="122.9" cy="93.6" rx="8.42" ry="14.60" transform="rotate(30 122.9 93.6)" fill="#fff" stroke="#1c1c1c" stroke-width="0.8"/></g>
<line x1="132.2" y1="88.6" x2="125.7" y2="107.1" stroke="#1c1c1c" stroke-width="1.1" stroke-linecap="butt"/>
<line x1="131.2" y1="93.6" x2="137.7" y2="97.3" stroke="#1c1c1c" stroke-width="1.1" stroke-linecap="butt"/>
<line x1="124.2" y1="99.6" x2="129.5" y2="96.9" stroke="#1c1c1c" stroke-width="0.8" stroke-linecap="butt"/>
<polyline points="128.4,109.1 128.1,109.2 127.7,109.3 127.3,109.3 126.9,109.4 126.5,109.3 126.2,109.3 125.8,109.3 125.5,109.2 125.2,109.1 124.9,108.9 124.6,108.8 124.3,108.6 124.0,108.4 123.8,108.2 123.5,107.9 123.3,107.7 123.1,107.4 122.9,107.1 122.7,106.7 122.6,106.4 122.4,106.0 122.3,105.6 122.2,105.2 122.1,104.8" fill="none" stroke="#1c1c1c" stroke-width="1.6" stroke-linejoin="round"/>
<line x1="127.7" y1="96.4" x2="138.7" y2="102.7" stroke="#1c1c1c" stroke-width="0.8" stroke-dasharray="4 1.5" stroke-linecap="butt"/>
<ellipse cx="156.9" cy="113.6" rx="10.75" ry="18.8" transform="rotate(31 156.9 113.6)" fill="#fff" stroke="#0a0a0a" stroke-width="6.4"/>
<line x1="147.5" y1="107.8" x2="166.5" y2="118.8" stroke="#1c1c1c" stroke-width="0.8" stroke-dasharray="8 2 1.5 2" stroke-linecap="butt"/>
<ellipse cx="188.65" cy="131.85" rx="15.5" ry="23.6" transform="rotate(27 188.65 131.85)" fill="#fff" stroke="#0a0a0a" stroke-width="5.4"/>
<line x1="175.5" y1="124.0" x2="202.0" y2="139.3" stroke="#1c1c1c" stroke-width="0.8" stroke-dasharray="8 2 1.5 2" stroke-linecap="butt"/>
<polygon points="235.7,130.5 234.0,129.8 232.1,129.4 230.1,129.5 228.0,129.9 225.8,130.6 223.5,131.8 221.3,133.2 219.0,135.0 216.9,137.1 214.9,139.4 213.0,141.9 211.3,144.6 209.8,147.4 208.6,150.3 207.6,153.3 206.8,156.1 206.4,158.9 206.3,161.6 206.4,164.1 206.8,166.5 207.6,168.5 208.6,170.3 209.8,171.7 211.3,172.8 213.0,173.8 214.7,174.5 216.6,174.9 218.6,174.9 220.8,174.5 223.0,173.7 225.2,172.6 227.5,171.1 229.7,169.3 231.8,167.3 233.9,164.9 235.7,162.4 237.4,159.7 238.9,156.9 240.2,154.0 241.2,151.1 241.9,148.2 242.3,145.4 242.5,142.7 242.3,140.2 241.9,137.9 241.2,135.8 240.2,134.1 238.9,132.6 237.4,131.5" fill="#fff" stroke="#1c1c1c" stroke-width="1.0" stroke-linejoin="round"/>
<ellipse cx="225.2" cy="152.7" rx="14.08" ry="24.40" transform="rotate(30 225.2 152.7)" fill="#fff" stroke="#1c1c1c" stroke-width="1.0" />
<polyline points="213.5,173.3 212.6,172.9 211.8,172.4 211.1,171.9 210.4,171.2 209.8,170.4 209.3,169.6 208.8,168.7 208.4,167.7 208.1,166.6 207.8,165.5 207.6,164.3 207.5,163.1 207.5,161.8 207.5,160.4 207.6,159.0 207.8,157.6 208.1,156.2 208.5,154.8 208.9,153.3 209.4,151.8 209.9,150.4 210.6,148.9 211.3,147.5 212.0,146.0 212.8,144.6 213.7,143.3 214.6,142.0 215.5,140.7 216.5,139.5 217.5,138.3 218.6,137.2 219.7,136.2 220.8,135.2 221.9,134.3 223.0,133.5 224.2,132.8 225.3,132.2 226.4,131.7 227.6,131.2 228.7,130.9" fill="none" stroke="#333" stroke-width="2.0" stroke-dasharray="1.6 1.6" stroke-linejoin="round"/>
<polygon points="236.9,132.4 235.3,131.7 233.5,131.3 231.6,131.4 229.5,131.7 227.4,132.5 225.2,133.6 223.1,135.0 221.0,136.7 218.9,138.7 217.0,140.9 215.2,143.3 213.5,145.9 212.1,148.6 210.9,151.4 210.0,154.2 209.3,157.0 208.8,159.7 208.7,162.2 208.8,164.6 209.3,166.8 209.9,168.8 210.9,170.5 212.1,171.9 213.5,172.9 215.4,174.0 217.1,174.7 218.9,175.1 220.8,175.1 222.9,174.7 225.0,174.0 227.1,172.9 229.3,171.5 231.4,169.7 233.5,167.8 235.4,165.5 237.2,163.1 238.8,160.5 240.3,157.8 241.5,155.0 242.4,152.3 243.1,149.5 243.5,146.8 243.7,144.2 243.5,141.8 243.1,139.6 242.4,137.6 241.5,135.9 240.3,134.6 238.8,133.5" fill="#fff" stroke="#1c1c1c" stroke-width="0.8" stroke-linejoin="round"/>
<ellipse cx="227.1" cy="153.8" rx="13.50" ry="23.40" transform="rotate(30 227.1 153.8)" fill="#fff" stroke="#1c1c1c" stroke-width="0.8" />
<polygon points="238.3,134.4 236.8,133.7 235.1,133.4 233.2,133.4 231.2,133.7 229.2,134.4 227.1,135.5 225.1,136.8 223.0,138.5 221.1,140.4 219.2,142.5 217.5,144.8 215.9,147.3 214.6,149.9 213.4,152.5 212.5,155.2 211.8,157.9 211.4,160.5 211.3,162.9 211.4,165.2 211.8,167.3 212.5,169.2 213.4,170.8 214.6,172.2 215.9,173.2 221.1,176.2 222.7,176.8 224.4,177.2 226.3,177.2 228.2,176.8 230.3,176.1 232.3,175.1 234.4,173.7 236.4,172.1 238.4,170.2 240.2,168.0 242.0,165.7 243.5,163.2 244.9,160.6 246.0,158.0 247.0,155.3 247.6,152.7 248.0,150.1 248.2,147.6 248.0,145.3 247.6,143.2 247.0,141.3 246.0,139.7 244.9,138.4 243.5,137.4" fill="#fff" stroke="#1c1c1c" stroke-width="0.8" stroke-linejoin="round"/>
<ellipse cx="232.3" cy="156.8" rx="12.92" ry="22.40" transform="rotate(30 232.3 156.8)" fill="#fff" stroke="#1c1c1c" stroke-width="0.8" />
<polygon points="243.9,136.7 242.3,136.0 240.5,135.6 238.6,135.6 236.6,136.0 234.5,136.8 232.3,137.8 230.2,139.2 228.1,140.9 226.1,142.9 224.1,145.1 222.4,147.5 220.7,150.1 219.3,152.8 218.1,155.5 217.2,158.3 216.5,161.0 216.1,163.7 215.9,166.2 216.1,168.6 216.5,170.8 217.2,172.8 218.1,174.4 219.3,175.8 220.7,176.9 224.6,179.1 226.2,179.8 228.0,180.1 229.9,180.1 232.0,179.7 234.1,179.0 236.2,177.9 238.3,176.5 240.4,174.8 242.5,172.9 244.4,170.7 246.2,168.3 247.8,165.7 249.2,163.0 250.4,160.3 251.3,157.5 252.0,154.8 252.5,152.1 252.6,149.5 252.5,147.1 252.0,144.9 251.4,143.0 250.4,141.3 249.2,140.0 247.8,138.9" fill="#fff" stroke="#1c1c1c" stroke-width="1.0" stroke-linejoin="round"/>
<ellipse cx="236.2" cy="159.0" rx="13.39" ry="23.20" transform="rotate(30 236.2 159.0)" fill="#fff" stroke="#1c1c1c" stroke-width="1.0" />
<line x1="232.6" y1="133.5" x2="237.8" y2="136.5" stroke="#1c1c1c" stroke-width="1.0" stroke-linecap="butt"/>
<line x1="212.3" y1="168.6" x2="217.5" y2="171.6" stroke="#1c1c1c" stroke-width="1.0" stroke-linecap="butt"/>
<ellipse cx="236.2" cy="159.0" rx="12.46" ry="21.60" transform="rotate(30 236.2 159.0)" fill="#fff" stroke="#1c1c1c" stroke-width="0.7" />
<ellipse cx="236.2" cy="159.0" rx="11.66" ry="20.20" transform="rotate(30 236.2 159.0)" fill="#8a8a8a" stroke="#1c1c1c" stroke-width="1.0" />
<clipPath id="cp3"><ellipse cx="236.2" cy="159.0" rx="11.66" ry="20.20" transform="rotate(30 236.2 159.0)"/></clipPath>
<g clip-path="url(#cp3)"><ellipse cx="224.9" cy="152.5" rx="11.66" ry="20.20" transform="rotate(30 224.9 152.5)" fill="#fff" stroke="#1c1c1c" stroke-width="0.8"/></g>
<clipPath id="cp4"><ellipse cx="236.2" cy="159.0" rx="11.66" ry="20.20" transform="rotate(30 236.2 159.0)"/></clipPath>
<g clip-path="url(#cp4)" stroke="#444" stroke-width="0.4" fill="none">
<ellipse cx="235.3" cy="158.5" rx="11.66" ry="20.2" transform="rotate(30 235.3 158.5)"/>
<ellipse cx="234.3" cy="157.9" rx="11.66" ry="20.2" transform="rotate(30 234.3 157.9)"/>
<ellipse cx="233.4" cy="157.4" rx="11.66" ry="20.2" transform="rotate(30 233.4 157.4)"/>
<ellipse cx="232.4" cy="156.8" rx="11.66" ry="20.2" transform="rotate(30 232.4 156.8)"/>
<ellipse cx="231.5" cy="156.3" rx="11.66" ry="20.2" transform="rotate(30 231.5 156.3)"/>
<ellipse cx="230.6" cy="155.7" rx="11.66" ry="20.2" transform="rotate(30 230.6 155.7)"/>
<ellipse cx="229.6" cy="155.2" rx="11.66" ry="20.2" transform="rotate(30 229.6 155.2)"/>
<ellipse cx="228.7" cy="154.7" rx="11.66" ry="20.2" transform="rotate(30 228.7 154.7)"/>
<ellipse cx="227.8" cy="154.1" rx="11.66" ry="20.2" transform="rotate(30 227.8 154.1)"/>
<ellipse cx="226.8" cy="153.6" rx="11.66" ry="20.2" transform="rotate(30 226.8 153.6)"/>
<ellipse cx="225.9" cy="153.0" rx="11.66" ry="20.2" transform="rotate(30 225.9 153.0)"/>
</g>
<clipPath id="cp5"><ellipse cx="236.2" cy="159.0" rx="11.66" ry="20.20" transform="rotate(30 236.2 159.0)"/></clipPath>
<g clip-path="url(#cp5)"><ellipse cx="222.7" cy="158.0" rx="10.39" ry="18.0" transform="rotate(30 222.7 158.0)" fill="#fff" stroke="#222" stroke-width="0.9"/><ellipse cx="234.7" cy="162.2" rx="11.66" ry="20.2" transform="rotate(30 234.7 162.2)" fill="none" stroke="#fff" stroke-width="3.2"/><ellipse cx="235.0" cy="160.2" rx="11.66" ry="20.2" transform="rotate(30 235.0 160.2)" fill="none" stroke="#333" stroke-width="0.7"/></g>
<ellipse cx="236.2" cy="159.0" rx="11.66" ry="20.20" transform="rotate(30 236.2 159.0)" fill="none" stroke="#1c1c1c" stroke-width="1.0" />
<line x1="227.2" y1="153.8" x2="235.2" y2="158.4" stroke="#1c1c1c" stroke-width="0.8" stroke-linecap="butt"/>
<polygon points="284.0,154.0 282.0,153.2 279.9,152.7 277.5,152.8 275.1,153.2 272.5,154.1 269.9,155.4 267.3,157.1 264.7,159.2 262.3,161.6 259.9,164.3 257.8,167.2 255.8,170.3 254.1,173.6 252.6,176.9 251.5,180.3 250.6,183.6 250.1,186.9 250.0,190.0 250.1,192.9 250.6,195.5 251.5,197.9 252.6,199.9 254.1,201.6 255.8,202.9 273.5,213.1 275.4,213.9 277.6,214.3 279.9,214.3 282.4,213.9 285.0,213.0 287.6,211.7 290.2,210.0 292.7,207.9 295.2,205.5 297.5,202.8 299.7,199.9 301.7,196.8 303.4,193.5 304.8,190.2 306.0,186.8 306.8,183.5 307.3,180.2 307.5,177.1 307.3,174.2 306.8,171.6 306.0,169.2 304.8,167.2 303.4,165.5 301.7,164.2" fill="#fff" stroke="#1c1c1c" stroke-width="1.0" stroke-linejoin="round"/>
<ellipse cx="287.6" cy="188.6" rx="16.27" ry="28.20" transform="rotate(30 287.6 188.6)" fill="#fff" stroke="#1c1c1c" stroke-width="1.0" />
<ellipse cx="287.6" cy="188.6" rx="15.23" ry="26.40" transform="rotate(30 287.6 188.6)" fill="none" stroke="#777" stroke-width="0.6" />
<ellipse cx="287.6" cy="188.6" rx="14.66" ry="25.40" transform="rotate(30 287.6 188.6)" fill="none" stroke="#777" stroke-width="0.6" />
<ellipse cx="287.3" cy="189.8" rx="10.82" ry="16.40" transform="rotate(30 287.3 189.8)" fill="#fff" stroke="#1c1c1c" stroke-width="1.0" />
<ellipse cx="287.3" cy="189.8" rx="9.37" ry="14.20" transform="rotate(30 287.3 189.8)" fill="#fff" stroke="#1c1c1c" stroke-width="0.9" />
<clipPath id="cp6"><ellipse cx="287.3" cy="189.8" rx="9.37" ry="14.20" transform="rotate(30 287.3 189.8)"/></clipPath>
<g clip-path="url(#cp6)"><ellipse cx="282.1" cy="186.8" rx="9.37" ry="14.20" transform="rotate(30 282.1 186.8)" fill="#fff" stroke="#1c1c1c" stroke-width="0.7200000000000001"/></g>
<polyline points="276.7,197.7 276.3,196.9 276.0,196.1 275.7,195.2 275.6,194.2 275.5,193.2 275.5,192.2 275.6,191.1 275.8,190.0 276.1,188.9 276.4,187.8 276.8,186.7 277.3,185.7 277.9,184.6 278.5,183.6 279.2,182.6 280.0,181.7 280.8,180.9 281.6,180.1 282.4,179.4 283.3,178.8 284.2,178.3 285.1,177.9 286.0,177.5 286.9,177.3" fill="none" stroke="#444" stroke-width="0.7" stroke-linejoin="round"/>
<polyline points="275.9,196.2 275.6,195.5 275.3,194.7 275.1,193.9 274.9,193.0 274.9,192.1 274.9,191.1 275.0,190.1 275.1,189.1 275.4,188.1 275.7,187.1 276.1,186.1 276.6,185.1 277.1,184.1 277.7,183.2 278.3,182.3 279.0,181.5 279.7,180.7 280.5,180.0 281.3,179.4 282.1,178.8 282.9,178.3 283.7,177.9 284.6,177.6 285.4,177.4" fill="none" stroke="#444" stroke-width="0.7" stroke-linejoin="round"/>
<line x1="286.3" y1="178.8" x2="281.3" y2="196.8" stroke="#1c1c1c" stroke-width="0.7" stroke-linecap="butt"/>
<line x1="288.8" y1="178.3" x2="283.8" y2="197.8" stroke="#1c1c1c" stroke-width="0.7" stroke-linecap="butt"/>
<line x1="280.3" y1="188.8" x2="292.3" y2="193.8" stroke="#1c1c1c" stroke-width="0.7" stroke-linecap="butt"/>
<line x1="292.3" y1="195.8" x2="294.8" y2="197.0" stroke="#1c1c1c" stroke-width="1.2" stroke-linecap="butt"/>
<line x1="307.1" y1="188.8" x2="326.8" y2="224.5" stroke="#1c1c1c" stroke-width="0.8" stroke-linecap="butt"/>
<line x1="326.8" y1="188.4" x2="307.6" y2="224.5" stroke="#1c1c1c" stroke-width="0.8" stroke-linecap="butt"/>
<ellipse cx="316.5" cy="205.3" rx="6.00" ry="10.40" transform="rotate(30 316.5 205.3)" fill="#bbb" stroke="#1c1c1c" stroke-width="1.0" />
<ellipse cx="316.5" cy="205.3" rx="3.12" ry="5.40" transform="rotate(30 316.5 205.3)" fill="#fff" stroke="#1c1c1c" stroke-width="0.9" />
<line x1="307.1" y1="188.8" x2="326.8" y2="224.5" stroke="#1c1c1c" stroke-width="0.7" stroke-linecap="butt"/>
<line x1="326.8" y1="188.4" x2="307.6" y2="224.5" stroke="#1c1c1c" stroke-width="0.7" stroke-linecap="butt"/>
<polygon points="354.3,215.3 353.6,215.0 352.8,214.8 352.0,214.8 351.1,215.0 350.2,215.3 349.2,215.8 348.3,216.4 347.3,217.2 346.4,218.0 345.6,219.0 344.8,220.1 344.1,221.2 343.4,222.4 342.9,223.6 342.5,224.9 342.2,226.1 342.0,227.3 341.9,228.4 342.0,229.5 342.2,230.4 342.5,231.3 342.9,232.0 343.4,232.6 344.1,233.1 345.3,233.8 346.0,234.1 346.8,234.3 347.6,234.3 348.5,234.1 349.5,233.8 350.4,233.3 351.4,232.7 352.3,231.9 353.2,231.1 354.1,230.1 354.8,229.0 355.6,227.9 356.2,226.7 356.7,225.5 357.1,224.2 357.4,223.0 357.6,221.8 357.7,220.7 357.6,219.6 357.4,218.7 357.1,217.8 356.7,217.0 356.2,216.4 355.6,216.0" fill="#ccc" stroke="#1c1c1c" stroke-width="1.0" stroke-linejoin="round"/>
<ellipse cx="350.4" cy="224.9" rx="5.94" ry="10.30" transform="rotate(30 350.4 224.9)" fill="#ccc" stroke="#1c1c1c" stroke-width="1.0" />
<ellipse cx="350.4" cy="224.9" rx="5.94" ry="10.30" transform="rotate(30 350.4 224.9)" fill="#c8c8c8" stroke="#1c1c1c" stroke-width="1.0" />
<ellipse cx="350.4" cy="224.9" rx="3.92" ry="6.80" transform="rotate(30 350.4 224.9)" fill="#555" stroke="#1c1c1c" stroke-width="0.9" />
<path d="M369.2,230.3 L385.6,241 C387.6,243 384,248.6 381,247.3 L360.5,234 C358.5,231.5 361,227.5 364,226 L388.5,212 L392.2,217 L368.6,230.9 Z" fill="#fff" stroke="#3a3a3a" stroke-width="0.95" stroke-linejoin="round"/>
<ellipse cx="383.4" cy="244.2" rx="2.0" ry="3.5" transform="rotate(30 383.4 244.2)" fill="#fff" stroke="#555" stroke-width="0.7"/>
<path d="M365.5,228.6 L390.3,214.3 M365.5,228.6 L363.5,231.5 L381.5,243" fill="none" stroke="#666" stroke-width="0.7"/>
<text x="381.5" y="208.5" font-size="10.4" fill="#1a1a1a" text-anchor="middle" font-weight="normal" transform="rotate(-24 381.5 208.5)">12mm</text>
<polygon points="398.2,241.3 397.6,241.0 396.8,240.9 396.0,240.9 395.2,241.0 394.3,241.3 393.4,241.8 392.5,242.4 391.6,243.1 390.8,243.9 390.0,244.8 389.2,245.8 388.6,246.9 388.0,248.0 387.5,249.2 387.1,250.3 386.8,251.5 386.6,252.6 386.5,253.7 386.6,254.7 386.8,255.6 387.1,256.4 387.5,257.1 388.0,257.7 388.5,258.1 391.7,259.9 392.3,260.2 393.1,260.3 393.9,260.3 394.7,260.2 395.6,259.9 396.5,259.4 397.4,258.8 398.3,258.1 399.1,257.3 399.9,256.4 400.7,255.4 401.4,254.3 402.0,253.2 402.5,252.0 402.9,250.9 403.1,249.7 403.3,248.6 403.4,247.5 403.3,246.5 403.1,245.6 402.9,244.8 402.5,244.1 402.0,243.5 401.4,243.1" fill="#777" stroke="#1c1c1c" stroke-width="1.0" stroke-linejoin="round"/>
<ellipse cx="396.5" cy="251.5" rx="5.60" ry="9.70" transform="rotate(30 396.5 251.5)" fill="#777" stroke="#1c1c1c" stroke-width="1.0" />
<polyline points="389.3,258.6 388.2,257.5 387.6,256.0 387.3,254.1 387.6,251.9 388.2,249.6 389.3,247.4 390.8,245.3 392.4,243.5 394.2,242.2 396.0,241.5 397.6,241.3 399.0,241.8" fill="none" stroke="#222" stroke-width="0.5" stroke-linejoin="round"/>
<polyline points="390.9,259.5 389.8,258.4 389.1,256.9 388.9,255.0 389.1,252.8 389.8,250.5 390.9,248.3 392.3,246.2 394.0,244.4 395.7,243.1 397.5,242.4 399.2,242.2 400.6,242.7" fill="none" stroke="#222" stroke-width="0.5" stroke-linejoin="round"/>
<polygon points="400.5,244.6 400.0,244.3 399.3,244.2 398.7,244.2 398.0,244.3 397.3,244.6 396.5,245.0 395.8,245.5 395.1,246.0 394.4,246.7 393.7,247.5 393.1,248.3 392.5,249.2 392.0,250.1 391.6,251.1 391.3,252.0 391.1,253.0 390.9,253.9 390.9,254.8 390.9,255.6 391.1,256.3 391.3,257.0 391.6,257.6 392.0,258.1 392.5,258.4 394.4,259.5 395.0,259.8 395.6,259.9 396.3,259.9 397.0,259.8 397.7,259.5 398.4,259.1 399.2,258.7 399.9,258.1 400.6,257.4 401.2,256.6 401.9,255.8 402.4,254.9 402.9,254.0 403.3,253.0 403.6,252.1 403.9,251.1 404.0,250.2 404.1,249.3 404.0,248.5 403.9,247.8 403.6,247.1 403.3,246.5 402.9,246.0 402.4,245.7" fill="#333" stroke="#1c1c1c" stroke-width="0.8" stroke-linejoin="round"/>
<ellipse cx="398.4" cy="252.6" rx="4.62" ry="8.00" transform="rotate(30 398.4 252.6)" fill="#333" stroke="#1c1c1c" stroke-width="0.8" />
<polygon points="402.6,244.9 402.0,244.6 401.4,244.5 400.6,244.5 399.9,244.6 399.1,244.9 398.3,245.3 397.4,245.8 396.6,246.5 395.9,247.2 395.1,248.1 394.5,249.0 393.9,250.0 393.3,251.0 392.9,252.0 392.5,253.1 392.2,254.1 392.1,255.1 392.0,256.1 392.1,257.0 392.2,257.8 392.5,258.6 392.9,259.2 393.3,259.7 393.8,260.1 402.8,265.3 403.4,265.6 404.1,265.7 404.8,265.7 405.6,265.5 406.4,265.3 407.2,264.9 408.0,264.3 408.8,263.7 409.6,262.9 410.3,262.1 411.0,261.2 411.6,260.2 412.1,259.2 412.6,258.2 412.9,257.1 413.2,256.1 413.4,255.0 413.4,254.1 413.4,253.2 413.2,252.3 412.9,251.6 412.6,251.0 412.1,250.4 411.6,250.0" fill="#888" stroke="#1c1c1c" stroke-width="1.0" stroke-linejoin="round"/>
<ellipse cx="407.2" cy="257.7" rx="5.08" ry="8.80" transform="rotate(30 407.2 257.7)" fill="#888" stroke="#1c1c1c" stroke-width="1.0" />
<polyline points="394.7,260.6 393.8,259.7 393.1,258.4 392.9,256.6 393.1,254.6 393.8,252.5 394.7,250.5 396.0,248.6 397.5,247.0 399.1,245.8 400.8,245.2 402.3,245.0 403.5,245.4" fill="none" stroke="#222" stroke-width="0.7" stroke-linejoin="round"/>
<polyline points="396.5,261.7 395.5,260.8 394.9,259.4 394.7,257.6 394.9,255.7 395.5,253.6 396.5,251.5 397.8,249.6 399.3,248.0 400.9,246.9 402.5,246.2 404.0,246.0 405.3,246.4" fill="none" stroke="#222" stroke-width="0.7" stroke-linejoin="round"/>
<polyline points="398.3,262.7 397.3,261.8 396.7,260.4 396.5,258.7 396.7,256.7 397.3,254.6 398.3,252.5 399.6,250.7 401.1,249.1 402.7,247.9 404.3,247.2 405.8,247.1 407.1,247.5" fill="none" stroke="#222" stroke-width="0.7" stroke-linejoin="round"/>
<polyline points="400.1,263.7 399.1,262.8 398.5,261.5 398.3,259.7 398.5,257.7 399.1,255.6 400.1,253.6 401.4,251.7 402.9,250.1 404.5,248.9 406.1,248.3 407.6,248.1 408.9,248.5" fill="none" stroke="#222" stroke-width="0.7" stroke-linejoin="round"/>
<polyline points="401.9,264.8 400.9,263.9 400.3,262.5 400.1,260.7 400.3,258.8 400.9,256.7 401.9,254.6 403.2,252.7 404.7,251.1 406.3,250.0 407.9,249.3 409.4,249.1 410.7,249.5" fill="none" stroke="#222" stroke-width="0.7" stroke-linejoin="round"/>
<ellipse cx="407.2" cy="257.7" rx="5.08" ry="8.80" transform="rotate(30 407.2 257.7)" fill="#ddd" stroke="#1c1c1c" stroke-width="1.0" />
<ellipse cx="407.2" cy="257.7" rx="3.81" ry="6.60" transform="rotate(30 407.2 257.7)" fill="#ccc" stroke="#1c1c1c" stroke-width="0.9" />
<clipPath id="cp7"><ellipse cx="407.2" cy="257.7" rx="3.81" ry="6.60" transform="rotate(30 407.2 257.7)"/></clipPath>
<g clip-path="url(#cp7)"><ellipse cx="403.7" cy="255.7" rx="3.81" ry="6.60" transform="rotate(30 403.7 255.7)" fill="#fff" stroke="#1c1c1c" stroke-width="0.7200000000000001"/></g>
<line x1="405.2" y1="256.5" x2="410.2" y2="259.4" stroke="#1c1c1c" stroke-width="0.7" stroke-linecap="butt"/>
<path d="M428.8,259.5 C428.5,249 417,242 407.5,245.2" fill="none" stroke="#1c1c1c" stroke-width="0.9" stroke-linejoin="round" stroke-linecap="round" />
<polygon points="404.6,246.0 409.4,243.2 409.2,247.4" fill="#111" stroke="#1c1c1c" stroke-width="0.3" stroke-linejoin="round"/>
<ellipse cx="425.4" cy="268.4" rx="4.5" ry="7.6" transform="rotate(30 425.4 268.4)" fill="#fff" stroke="#0a0a0a" stroke-width="2.2"/>
<line x1="421.0" y1="265.6" x2="429.5" y2="270.5" stroke="#1c1c1c" stroke-width="0.7" stroke-linecap="butt"/>
<polygon points="445.9,273.2 445.4,273.0 444.9,272.9 444.4,272.9 443.8,273.0 443.2,273.2 442.6,273.5 442.0,273.9 441.4,274.4 440.8,274.9 440.3,275.6 439.8,276.3 439.3,277.0 438.9,277.7 438.6,278.5 438.3,279.3 438.1,280.1 438.0,280.9 437.9,281.6 438.0,282.3 438.1,282.9 438.3,283.4 438.6,283.9 438.9,284.3 439.3,284.6 448.8,290.1 449.3,290.3 449.8,290.4 450.3,290.4 450.9,290.3 451.5,290.1 452.1,289.8 452.7,289.4 453.3,288.9 453.9,288.3 454.4,287.7 454.9,287.0 455.4,286.3 455.8,285.5 456.1,284.7 456.4,283.9 456.6,283.2 456.7,282.4 456.8,281.7 456.7,281.0 456.6,280.4 456.4,279.8 456.1,279.3 455.8,279.0 455.4,278.7" fill="#fff" stroke="#1c1c1c" stroke-width="1.1" stroke-linejoin="round"/>
<ellipse cx="452.1" cy="284.4" rx="3.81" ry="6.60" transform="rotate(30 452.1 284.4)" fill="#444" stroke="#1c1c1c" stroke-width="1.1" />
<polygon points="445.9,273.2 445.4,273.0 444.9,272.9 444.4,272.9 443.8,273.0 443.2,273.2 442.6,273.5 442.0,273.9 441.4,274.4 440.8,274.9 440.3,275.6 439.8,276.3 439.3,277.0 438.9,277.7 438.6,278.5 438.3,279.3 438.1,280.1 438.0,280.9 437.9,281.6 438.0,282.3 438.1,282.9 438.3,283.4 438.6,283.9 438.9,284.3 439.3,284.6 441.6,285.9 442.0,286.1 442.5,286.2 443.1,286.2 443.6,286.1 444.2,285.9 444.9,285.6 445.5,285.2 446.1,284.7 446.6,284.1 447.2,283.5 447.7,282.8 448.1,282.1 448.6,281.3 448.9,280.6 449.2,279.8 449.4,279.0 449.5,278.2 449.5,277.5 449.5,276.8 449.4,276.2 449.2,275.6 448.9,275.2 448.6,274.8 448.2,274.5" fill="#222" stroke="#1c1c1c" stroke-width="0.8" stroke-linejoin="round"/>
<ellipse cx="444.9" cy="280.2" rx="3.81" ry="6.60" transform="rotate(30 444.9 280.2)" fill="#fff" stroke="#1c1c1c" stroke-width="0.8" />
<ellipse cx="452.1" cy="284.4" rx="3.81" ry="6.60" transform="rotate(30 452.1 284.4)" fill="#333" stroke="#1c1c1c" stroke-width="1.1" />
<circle cx="454.4" cy="282.3" r="0.8" fill="#ddd"/>
<circle cx="453.1" cy="286.3" r="0.8" fill="#ddd"/>
<circle cx="449.9" cy="286.8" r="0.8" fill="#ddd"/>
<circle cx="451.1" cy="282.4" r="0.8" fill="#ddd"/>
<circle cx="452.1" cy="284.4" r="0.8" fill="#ddd"/>
<polygon points="455.8,301.6 456.7,289.2 466.1,278.7 474.6,280.7 481.0,284.4 480.1,296.8 470.7,307.2 462.2,305.3" fill="#fff" stroke="#1c1c1c" stroke-width="1.1" stroke-linejoin="round"/>
<line x1="474.6" y1="280.7" x2="481.0" y2="284.4" stroke="#1c1c1c" stroke-width="0.7" stroke-linecap="butt"/>
<line x1="473.7" y1="293.1" x2="480.1" y2="296.8" stroke="#1c1c1c" stroke-width="0.7" stroke-linecap="butt"/>
<line x1="464.3" y1="303.5" x2="470.7" y2="307.2" stroke="#1c1c1c" stroke-width="0.7" stroke-linecap="butt"/>
<line x1="455.8" y1="301.6" x2="462.2" y2="305.3" stroke="#1c1c1c" stroke-width="0.7" stroke-linecap="butt"/>
<line x1="456.7" y1="289.2" x2="463.1" y2="292.9" stroke="#1c1c1c" stroke-width="0.7" stroke-linecap="butt"/>
<line x1="466.1" y1="278.7" x2="472.5" y2="282.4" stroke="#1c1c1c" stroke-width="0.7" stroke-linecap="butt"/>
<polygon points="481.0,284.4 480.1,296.8 470.7,307.2 462.2,305.3 463.1,292.9 472.5,282.4" fill="#fff" stroke="#1c1c1c" stroke-width="0.9" stroke-linejoin="round"/>
<polyline points="463.9,304.0 462.7,304.2 461.6,304.2 460.5,304.0 459.6,303.6 458.8,303.0 458.1,302.2 457.5,301.2 457.1,300.1 456.9,298.8 456.8,297.4 456.9,295.9 457.1,294.3 457.5,292.7 458.1,291.1 458.8,289.5 459.6,287.9 460.5,286.4 461.6,285.0 462.7,283.7 463.9,282.5 465.1,281.5 466.4,280.7 467.7,280.1 468.9,279.7" fill="none" stroke="#555" stroke-width="0.6" stroke-linejoin="round"/>
<ellipse cx="474.0" cy="296.2" rx="7.62" ry="13.20" transform="rotate(30 474.0 296.2)" fill="#ddd" stroke="#1c1c1c" stroke-width="1.0" />
<ellipse cx="474.0" cy="296.2" rx="6.69" ry="11.60" transform="rotate(30 474.0 296.2)" fill="#ccc" stroke="#1c1c1c" stroke-width="0.8" />
<ellipse cx="474.0" cy="296.2" rx="5.54" ry="9.60" transform="rotate(30 474.0 296.2)" fill="#444" stroke="#1c1c1c" stroke-width="1.2" />
<clipPath id="cp8"><ellipse cx="474.0" cy="296.2" rx="5.54" ry="9.60" transform="rotate(30 474.0 296.2)"/></clipPath>
<g clip-path="url(#cp8)"><ellipse cx="469.7" cy="293.7" rx="5.54" ry="9.60" transform="rotate(30 469.7 293.7)" fill="#8a8a8a" stroke="#1c1c1c" stroke-width="0.96"/></g>
<line x1="479.9" y1="280.8" x2="484.2" y2="277.6" stroke="#1c1c1c" stroke-width="0.9" stroke-linecap="butt"/>
<g transform="translate(485.4,265.3) rotate(-11.7)" fill="#fff" stroke="#3a3a3a" stroke-width="0.95" stroke-linejoin="round">
<path d="M9.5,-2.5 C7,-2.6 6,-5.4 2.6,-6.2 C-0.6,-6.9 -3.6,-5.9 -5.2,-4.0 L-4.6,-2.5 L-0.8,-2.9 C1.2,-2.9 2.0,-1.3 2.0,0.1 C2.0,1.7 1.0,3.1 -1.0,3.1 L-5.2,4.1 L-5.2,5.6 C-3.2,7.1 -0.2,7.3 2.4,6.5 C5.6,5.5 7,2.7 9.5,2.6 L38.5,2.6 L38.5,-2.5 Z"/>
<ellipse cx="43.3" cy="0" rx="6.4" ry="5.2"/>
<ellipse cx="43.3" cy="0" rx="3.8" ry="3.0"/>
</g>
<defs>
<pattern id="mesh" width="2.2" height="2.2" patternUnits="userSpaceOnUse" patternTransform="rotate(30)"><rect width="2.2" height="2.2" fill="#333"/><rect x="0.4" y="0.4" width="1.4" height="1.4" fill="#e8e8e8"/></pattern>
<pattern id="mesh2" width="2.0" height="2.0" patternUnits="userSpaceOnUse" patternTransform="rotate(30)"><rect width="2" height="2" fill="#333"/><rect x="0.5" y="0.5" width="1.0" height="1.0" fill="#d0d0d0"/></pattern>
<pattern id="knurlB" width="1.6" height="6" patternUnits="userSpaceOnUse" patternTransform="rotate(60)"><rect width="1.6" height="6" fill="#1a1a1a"/><rect x="0" y="0" width="0.55" height="6" fill="#bbb"/></pattern>
<pattern id="knurlV" width="1.7" height="6" patternUnits="userSpaceOnUse"><rect width="1.7" height="6" fill="#222"/><rect x="0" y="0" width="0.6" height="6" fill="#ccc"/></pattern>
<pattern id="knurlA" width="1.6" height="6" patternUnits="userSpaceOnUse" patternTransform="rotate(-60)"><rect width="1.6" height="6" fill="#1a1a1a"/><rect x="0" y="0" width="0.55" height="6" fill="#bbb"/></pattern>
</defs>
<line x1="283.0" y1="89.4" x2="330.0" y2="116.5" stroke="#1c1c1c" stroke-width="0.7" stroke-linecap="butt"/>
<polygon points="281.8,77.1 281.1,76.8 280.3,76.7 279.5,76.7 278.6,76.9 277.7,77.2 276.8,77.6 275.9,78.2 275.0,79.0 274.1,79.8 273.3,80.8 272.5,81.8 271.8,82.9 271.2,84.1 270.7,85.3 270.3,86.4 270.0,87.6 269.8,88.8 269.7,89.9 269.8,90.9 270.0,91.9 270.3,92.7 270.7,93.4 271.2,94.0 271.8,94.5 272.8,95.1 273.5,95.4 274.3,95.5 275.1,95.5 276.0,95.3 276.9,95.0 277.8,94.6 278.8,94.0 279.7,93.2 280.5,92.4 281.4,91.4 282.1,90.4 282.8,89.3 283.4,88.1 284.0,86.9 284.4,85.8 284.7,84.6 284.8,83.4 284.9,82.3 284.8,81.3 284.7,80.3 284.4,79.5 284.0,78.8 283.4,78.2 282.8,77.7" fill="#ccc" stroke="#1c1c1c" stroke-width="0.9" stroke-linejoin="round"/>
<ellipse cx="277.8" cy="86.4" rx="5.77" ry="10.00" transform="rotate(30 277.8 86.4)" fill="#ccc" stroke="#1c1c1c" stroke-width="0.9" />
<ellipse cx="277.8" cy="86.4" rx="5.77" ry="10.00" transform="rotate(30 277.8 86.4)" fill="#cfcfcf" stroke="#1c1c1c" stroke-width="0.9" />
<ellipse cx="277.8" cy="86.4" rx="3.58" ry="6.20" transform="rotate(30 277.8 86.4)" fill="#eee" stroke="#1c1c1c" stroke-width="0.8" />
<ellipse cx="278.2" cy="86.7" rx="2.65" ry="4.60" transform="rotate(30 278.2 86.7)" fill="#fff" stroke="#1c1c1c" stroke-width="0.7" />
<polygon points="296.4,83.4 295.6,83.1 294.7,82.9 293.7,82.9 292.7,83.1 291.6,83.5 290.5,84.0 289.4,84.7 288.3,85.6 287.3,86.6 286.3,87.7 285.4,89.0 284.6,90.3 283.8,91.7 283.2,93.1 282.7,94.5 282.4,95.9 282.2,97.3 282.1,98.6 282.2,99.8 282.4,100.9 282.7,101.9 283.2,102.8 283.8,103.5 284.6,104.0 300.6,113.3 301.4,113.6 302.3,113.8 303.3,113.8 304.3,113.6 305.4,113.2 306.5,112.7 307.6,112.0 308.7,111.1 309.7,110.1 310.7,109.0 311.6,107.7 312.5,106.4 313.2,105.0 313.8,103.6 314.3,102.2 314.6,100.8 314.9,99.4 314.9,98.1 314.9,96.9 314.6,95.8 314.3,94.8 313.8,93.9 313.2,93.2 312.5,92.7" fill="#fff" stroke="#1c1c1c" stroke-width="1.0" stroke-linejoin="round"/>
<ellipse cx="306.5" cy="103.0" rx="6.87" ry="11.90" transform="rotate(30 306.5 103.0)" fill="#fff" stroke="#1c1c1c" stroke-width="1.0" />
<polygon points="312.7,92.2 311.9,91.9 310.9,91.7 309.9,91.7 308.8,91.9 307.7,92.3 306.5,92.9 305.4,93.6 304.3,94.5 303.2,95.6 302.1,96.7 301.2,98.0 300.3,99.4 299.6,100.8 298.9,102.3 298.4,103.8 298.1,105.2 297.8,106.7 297.8,108.0 297.8,109.3 298.1,110.5 298.4,111.5 298.9,112.4 299.6,113.2 300.3,113.7 301.9,114.6 302.7,115.0 303.7,115.2 304.7,115.2 305.8,115.0 306.9,114.6 308.1,114.0 309.2,113.3 310.3,112.3 311.4,111.3 312.5,110.1 313.4,108.8 314.3,107.5 315.0,106.0 315.7,104.6 316.2,103.1 316.5,101.6 316.8,100.2 316.8,98.8 316.8,97.5 316.5,96.4 316.2,95.3 315.7,94.4 315.0,93.7 314.3,93.1" fill="#222" stroke="#1c1c1c" stroke-width="0.9" stroke-linejoin="round"/>
<ellipse cx="308.1" cy="103.9" rx="7.15" ry="12.40" transform="rotate(30 308.1 103.9)" fill="#222" stroke="#1c1c1c" stroke-width="0.9" />
<polygon points="313.6,94.4 312.8,94.0 312.0,93.9 311.1,93.9 310.1,94.0 309.1,94.4 308.1,94.9 307.1,95.6 306.1,96.4 305.1,97.3 304.2,98.3 303.3,99.5 302.6,100.7 301.9,102.0 301.3,103.3 300.9,104.6 300.6,105.9 300.4,107.2 300.3,108.4 300.4,109.5 300.6,110.5 300.9,111.5 301.3,112.3 301.9,112.9 302.6,113.4 308.2,116.6 309.0,117.0 309.8,117.1 310.7,117.1 311.7,117.0 312.7,116.6 313.7,116.1 314.7,115.4 315.7,114.6 316.7,113.7 317.6,112.7 318.4,111.5 319.2,110.3 319.9,109.0 320.4,107.7 320.9,106.4 321.2,105.1 321.4,103.8 321.5,102.6 321.4,101.5 321.2,100.5 320.9,99.5 320.4,98.7 319.9,98.1 319.2,97.6" fill="#aaa" stroke="#1c1c1c" stroke-width="0.9" stroke-linejoin="round"/>
<ellipse cx="313.7" cy="107.1" rx="6.35" ry="11.00" transform="rotate(30 313.7 107.1)" fill="#aaa" stroke="#1c1c1c" stroke-width="0.9" />
<polyline points="303.5,113.9 302.3,112.8 301.5,111.1 301.2,108.9 301.5,106.4 302.3,103.8 303.5,101.2 305.1,98.9 307.0,96.9 309.0,95.4 311.0,94.6 312.9,94.4 314.5,94.9" fill="none" stroke="#333" stroke-width="0.6" stroke-linejoin="round"/>
<polyline points="305.4,115.0 304.2,113.9 303.4,112.2 303.1,110.0 303.4,107.5 304.2,104.9 305.4,102.3 307.0,100.0 308.9,98.0 310.9,96.5 312.9,95.7 314.8,95.5 316.4,96.0" fill="none" stroke="#333" stroke-width="0.6" stroke-linejoin="round"/>
<polyline points="307.3,116.1 306.0,115.0 305.3,113.2 305.0,111.1 305.3,108.6 306.0,106.0 307.3,103.4 308.9,101.1 310.8,99.1 312.8,97.6 314.8,96.7 316.7,96.6 318.3,97.1" fill="none" stroke="#333" stroke-width="0.6" stroke-linejoin="round"/>
<ellipse cx="313.7" cy="107.1" rx="6.35" ry="11.00" transform="rotate(30 313.7 107.1)" fill="#ddd" stroke="#1c1c1c" stroke-width="1.0" />
<ellipse cx="313.7" cy="107.1" rx="4.39" ry="7.60" transform="rotate(30 313.7 107.1)" fill="#fff" stroke="#1c1c1c" stroke-width="0.9" />
<line x1="317.5" y1="100.5" x2="316.2" y2="102.8" stroke="#555" stroke-width="0.5" stroke-linecap="butt"/>
<line x1="319.1" y1="104.0" x2="317.2" y2="105.1" stroke="#555" stroke-width="0.5" stroke-linecap="butt"/>
<line x1="317.5" y1="109.3" x2="316.2" y2="108.6" stroke="#555" stroke-width="0.5" stroke-linecap="butt"/>
<line x1="313.7" y1="113.3" x2="313.7" y2="111.2" stroke="#555" stroke-width="0.5" stroke-linecap="butt"/>
<line x1="309.9" y1="113.7" x2="311.2" y2="111.4" stroke="#555" stroke-width="0.5" stroke-linecap="butt"/>
<line x1="308.3" y1="110.2" x2="310.2" y2="109.2" stroke="#555" stroke-width="0.5" stroke-linecap="butt"/>
<line x1="309.9" y1="104.9" x2="311.2" y2="105.7" stroke="#555" stroke-width="0.5" stroke-linecap="butt"/>
<line x1="313.7" y1="100.9" x2="313.7" y2="103.0" stroke="#555" stroke-width="0.5" stroke-linecap="butt"/>
<ellipse cx="313.7" cy="107.1" rx="2.88" ry="5.00" transform="rotate(30 313.7 107.1)" fill="#fff" stroke="#666" stroke-width="0.6" />
<polygon points="338.9,104.8 337.9,104.4 336.8,104.1 335.6,104.1 334.3,104.4 333.0,104.8 331.6,105.5 330.3,106.4 328.9,107.5 327.7,108.7 326.4,110.1 325.3,111.6 324.3,113.2 323.4,114.9 322.7,116.6 322.1,118.4 321.6,120.1 321.4,121.8 321.3,123.4 321.4,124.9 321.6,126.3 322.1,127.5 322.7,128.6 323.4,129.4 324.3,130.1 327.2,131.8 328.3,132.2 329.4,132.4 330.6,132.4 331.9,132.2 333.2,131.7 334.5,131.1 335.9,130.2 337.2,129.1 338.5,127.9 339.7,126.5 340.8,125.0 341.8,123.4 342.7,121.7 343.5,119.9 344.1,118.2 344.5,116.5 344.8,114.8 344.9,113.2 344.8,111.7 344.5,110.3 344.1,109.1 343.5,108.0 342.7,107.2 341.8,106.5" fill="#fff" stroke="#1c1c1c" stroke-width="1.0" stroke-linejoin="round"/>
<ellipse cx="334.5" cy="119.1" rx="8.42" ry="14.60" transform="rotate(30 334.5 119.1)" fill="#fff" stroke="#1c1c1c" stroke-width="1.0" />
<polygon points="342.7,105.2 341.5,104.7 340.3,104.5 339.0,104.5 337.5,104.8 336.1,105.3 334.6,106.0 333.1,107.0 331.7,108.2 330.2,109.5 328.9,111.1 327.7,112.7 326.6,114.5 325.6,116.4 324.7,118.3 324.1,120.2 323.6,122.1 323.3,124.0 323.2,125.7 323.3,127.4 323.6,128.9 324.1,130.3 324.7,131.4 325.6,132.4 326.6,133.1 347.3,145.1 348.5,145.6 349.7,145.9 351.0,145.8 352.5,145.6 353.9,145.1 355.4,144.3 356.9,143.4 358.3,142.2 359.8,140.8 361.1,139.3 362.3,137.6 363.4,135.8 364.4,134.0 365.3,132.1 365.9,130.1 366.4,128.2 366.7,126.4 366.8,124.6 366.7,122.9 366.4,121.4 365.9,120.1 365.3,118.9 364.4,118.0 363.4,117.2" fill="#fff" stroke="#1c1c1c" stroke-width="1.1" stroke-linejoin="round"/>
<ellipse cx="355.4" cy="131.2" rx="9.29" ry="16.10" transform="rotate(30 355.4 131.2)" fill="#fff" stroke="#1c1c1c" stroke-width="1.1" />
<line x1="334.3" y1="104.4" x2="337.5" y2="104.8" stroke="#1c1c1c" stroke-width="0.7" stroke-linecap="butt"/>
<line x1="324.3" y1="113.2" x2="326.6" y2="114.5" stroke="#1c1c1c" stroke-width="0.7" stroke-linecap="butt"/>
<line x1="321.6" y1="126.3" x2="323.6" y2="128.9" stroke="#1c1c1c" stroke-width="0.7" stroke-linecap="butt"/>
<ellipse cx="355.4" cy="131.2" rx="8.42" ry="14.60" transform="rotate(30 355.4 131.2)" fill="#fff" stroke="#1c1c1c" stroke-width="0.9" />
<clipPath id="cp9"><ellipse cx="355.4" cy="131.2" rx="8.42" ry="14.60" transform="rotate(30 355.4 131.2)"/></clipPath>
<g clip-path="url(#cp9)"><ellipse cx="343.3" cy="124.2" rx="8.42" ry="14.6" transform="rotate(30 343.3 124.2)" fill="none" stroke="#333" stroke-width="0.8"/></g>
<line x1="365.0" y1="124.7" x2="358.9" y2="121.2" stroke="#1c1c1c" stroke-width="1.5" stroke-linecap="butt"/>
<line x1="350.6" y1="143.6" x2="344.5" y2="140.1" stroke="#1c1c1c" stroke-width="1.5" stroke-linecap="butt"/>
<polyline points="350.0,143.3 349.1,143.0 348.3,142.5 347.6,141.9 347.1,141.2 346.6,140.3 346.2,139.3 346.0,138.2 345.9,137.0 346.0,135.7 346.1,134.3 346.4,132.9 346.8,131.5 347.3,130.1 348.0,128.7 348.7,127.3 349.5,126.0 350.4,124.7 351.4,123.6 352.4,122.5 353.5,121.6 354.6,120.8 355.7,120.1 356.8,119.6 357.9,119.2" fill="none" stroke="#333" stroke-width="0.7" stroke-linejoin="round"/>
<line x1="349.4" y1="127.7" x2="375.0" y2="142.5" stroke="#1c1c1c" stroke-width="0.8" stroke-linecap="butt"/>
<line x1="677.6" y1="247.5" x2="700.0" y2="234.6" stroke="#1c1c1c" stroke-width="0.8" stroke-linecap="butt"/>
<line x1="733.0" y1="215.5" x2="750.0" y2="205.7" stroke="#1c1c1c" stroke-width="0.8" stroke-dasharray="6 2 1.5 2" stroke-linecap="butt"/>
<line x1="772.0" y1="193.0" x2="790.0" y2="182.6" stroke="#1c1c1c" stroke-width="0.8" stroke-linecap="butt"/>
<line x1="803.0" y1="175.1" x2="812.0" y2="169.9" stroke="#1c1c1c" stroke-width="0.8" stroke-linecap="butt"/>
<line x1="840.0" y1="153.8" x2="852.0" y2="146.9" stroke="#1c1c1c" stroke-width="0.8" stroke-linecap="butt"/>
<ellipse cx="685.9" cy="242.7" rx="4.67" ry="8.1" transform="rotate(-30 685.9 242.7)" fill="none" stroke="#0a0a0a" stroke-width="2.2"/>
<path d="M681.2,233.5 C682,225 690,219 699,219.6" fill="none" stroke="#1c1c1c" stroke-width="0.9" stroke-linejoin="round" stroke-linecap="round" />
<polygon points="703.4,220.2 697.6,217.2 698.2,222.8" fill="#111" stroke="#1c1c1c" stroke-width="0.3" stroke-linejoin="round"/>
<polygon points="733.4,218.8 733.5,218.6 733.7,218.5 733.8,218.2 733.9,218.0 734.0,217.7 734.0,217.4 734.0,217.1 733.9,216.7 733.8,216.4 733.7,216.0 733.5,215.7 733.4,215.3 733.2,215.0 732.9,214.7 732.7,214.4 732.4,214.1 732.1,213.9 731.9,213.7 731.6,213.6 731.3,213.5 731.0,213.4 730.8,213.4 730.6,213.5 730.4,213.6 723.0,217.8 722.8,218.0 722.7,218.1 722.5,218.4 722.5,218.6 722.4,218.9 722.4,219.2 722.4,219.5 722.5,219.9 722.5,220.2 722.7,220.6 722.8,220.9 723.0,221.3 723.2,221.6 723.4,221.9 723.7,222.2 724.0,222.5 724.2,222.7 724.5,222.9 724.8,223.0 725.0,223.1 725.3,223.2 725.6,223.2 725.8,223.1 726.0,223.0" fill="#111" stroke="#1c1c1c" stroke-width="0.8" stroke-linejoin="round"/>
<ellipse cx="724.5" cy="220.4" rx="1.73" ry="3.00" transform="rotate(-30 724.5 220.4)" fill="#111" stroke="#1c1c1c" stroke-width="0.8" />
<polygon points="728.5,227.6 729.0,227.2 729.4,226.7 729.8,226.1 730.0,225.4 730.2,224.7 730.2,223.8 730.2,222.9 730.0,222.0 729.8,221.0 729.4,220.0 729.0,219.0 728.5,218.1 728.0,217.2 727.3,216.3 726.6,215.6 725.9,214.9 725.2,214.3 724.4,213.8 723.7,213.4 722.9,213.1 722.2,213.0 721.5,213.0 720.9,213.1 720.3,213.4 713.4,217.4 712.9,217.7 712.5,218.2 712.1,218.8 711.9,219.5 711.8,220.3 711.7,221.1 711.8,222.0 711.9,223.0 712.1,223.9 712.5,224.9 712.9,225.9 713.4,226.8 714.0,227.7 714.6,228.6 715.3,229.4 716.0,230.1 716.7,230.7 717.5,231.2 718.3,231.5 719.0,231.8 719.7,231.9 720.4,231.9 721.0,231.8 721.6,231.6" fill="#fff" stroke="#1c1c1c" stroke-width="0.9" stroke-linejoin="round"/>
<ellipse cx="717.5" cy="224.5" rx="4.73" ry="8.20" transform="rotate(-30 717.5 224.5)" fill="#fff" stroke="#1c1c1c" stroke-width="0.9" />
<polygon points="722.6,233.8 723.2,233.3 723.8,232.7 724.2,231.9 724.5,231.0 724.7,230.0 724.8,228.9 724.7,227.7 724.5,226.5 724.2,225.3 723.8,224.0 723.2,222.7 722.6,221.5 721.9,220.4 721.0,219.3 720.2,218.2 719.2,217.3 718.3,216.6 717.3,215.9 716.3,215.4 715.4,215.1 714.4,214.9 713.5,214.9 712.7,215.1 712.0,215.4 704.2,219.9 703.6,220.4 703.0,221.0 702.6,221.8 702.3,222.7 702.1,223.7 702.0,224.8 702.1,225.9 702.3,227.1 702.6,228.4 703.0,229.7 703.6,230.9 704.2,232.1 704.9,233.3 705.8,234.4 706.6,235.4 707.6,236.3 708.5,237.1 709.5,237.7 710.5,238.2 711.4,238.6 712.4,238.7 713.2,238.7 714.1,238.6 714.8,238.3" fill="#fff" stroke="#1c1c1c" stroke-width="1.0" stroke-linejoin="round"/>
<ellipse cx="709.5" cy="229.1" rx="6.12" ry="10.60" transform="rotate(-30 709.5 229.1)" fill="#fff" stroke="#1c1c1c" stroke-width="1.0" />
<polyline points="716.7,237.2 717.8,236.3 718.5,234.9 718.9,233.3 718.9,231.3 718.5,229.2 717.7,227.0 716.7,224.9 715.4,223.0 713.9,221.2 712.2,219.9 710.6,218.9 708.9,218.4 707.4,218.4 706.1,218.8" fill="none" stroke="#111" stroke-width="1.5" stroke-linejoin="round"/>
<polyline points="718.6,236.1 719.7,235.2 720.4,233.8 720.8,232.2 720.8,230.2 720.4,228.1 719.7,225.9 718.6,223.8 717.3,221.9 715.8,220.1 714.1,218.8 712.5,217.8 710.8,217.3 709.3,217.3 708.0,217.7" fill="none" stroke="#111" stroke-width="1.5" stroke-linejoin="round"/>
<polyline points="720.5,235.0 721.6,234.1 722.3,232.7 722.7,231.1 722.7,229.1 722.3,227.0 721.6,224.8 720.5,222.7 719.2,220.8 717.7,219.0 716.1,217.7 714.4,216.7 712.7,216.2 711.2,216.2 709.9,216.6" fill="none" stroke="#111" stroke-width="1.5" stroke-linejoin="round"/>
<polygon points="714.2,235.5 714.6,235.1 715.0,234.7 715.3,234.1 715.6,233.5 715.7,232.8 715.7,232.0 715.7,231.1 715.6,230.3 715.3,229.4 715.0,228.5 714.6,227.6 714.2,226.7 713.6,225.8 713.1,225.1 712.4,224.3 711.8,223.7 711.1,223.1 710.4,222.7 709.7,222.3 709.0,222.1 708.3,222.0 707.7,222.0 707.1,222.1 706.6,222.3 695.1,228.9 694.6,229.3 694.2,229.7 693.9,230.3 693.7,230.9 693.6,231.6 693.5,232.4 693.6,233.2 693.7,234.1 693.9,235.0 694.2,235.9 694.6,236.8 695.1,237.7 695.6,238.5 696.2,239.3 696.8,240.0 697.5,240.7 698.2,241.2 698.9,241.7 699.6,242.1 700.3,242.3 701.0,242.4 701.6,242.4 702.2,242.3 702.7,242.1" fill="#fff" stroke="#1c1c1c" stroke-width="1.3" stroke-linejoin="round"/>
<ellipse cx="698.9" cy="235.5" rx="4.39" ry="7.60" transform="rotate(-30 698.9 235.5)" fill="#fff" stroke="#1c1c1c" stroke-width="1.3" />
<ellipse cx="698.9" cy="235.5" rx="4.39" ry="7.60" transform="rotate(-30 698.9 235.5)" fill="#fff" stroke="#111" stroke-width="1.7" />
<ellipse cx="698.9" cy="235.5" rx="3.00" ry="5.20" transform="rotate(-30 698.9 235.5)" fill="#444" stroke="#1c1c1c" stroke-width="1.0" />
<ellipse cx="699.7" cy="235.1" rx="1.73" ry="3.00" transform="rotate(-30 699.7 235.1)" fill="#999" stroke="#222" stroke-width="0.6" />
<rect x="709.6" y="228.6" width="2.6" height="3.2" fill="#111" transform="rotate(-30 710.9 230.2)"/>
<polygon points="779.2,199.2 779.8,198.7 780.4,198.2 780.8,197.4 781.1,196.6 781.2,195.6 781.3,194.6 781.2,193.5 781.1,192.4 780.8,191.2 780.3,190.0 779.8,188.8 779.2,187.6 778.5,186.5 777.8,185.5 776.9,184.6 776.1,183.7 775.1,183.0 774.2,182.4 773.3,181.9 772.4,181.6 771.5,181.4 770.7,181.4 769.9,181.6 769.2,181.9 761.0,186.6 760.4,187.1 759.9,187.7 759.5,188.4 759.2,189.2 759.0,190.2 758.9,191.2 759.0,192.3 759.2,193.5 759.5,194.6 759.9,195.8 760.4,197.0 761.0,198.2 761.7,199.3 762.5,200.3 763.3,201.3 764.2,202.1 765.1,202.8 766.0,203.4 766.9,203.9 767.8,204.2 768.7,204.4 769.5,204.4 770.3,204.2 771.0,203.9" fill="#fff" stroke="#1c1c1c" stroke-width="0.9" stroke-linejoin="round"/>
<ellipse cx="774.2" cy="190.5" rx="8.00" ry="10" transform="rotate(-30 774.2 190.5)" fill="#fff" stroke="#222" stroke-width="0.9"/>
<polygon points="779.0,198.8 779.6,198.4 780.1,197.8 780.5,197.2 780.8,196.3 781.0,195.4 781.0,194.5 781.0,193.4 780.8,192.3 780.5,191.2 780.1,190.0 779.6,188.9 779.0,187.8 778.4,186.7 777.6,185.7 776.8,184.8 776.0,184.0 775.1,183.3 774.2,182.7 773.3,182.3 772.5,181.9 771.6,181.8 770.8,181.8 770.1,181.9 769.4,182.2 761.2,187.0 760.6,187.4 760.1,188.0 759.7,188.7 759.4,189.5 759.3,190.4 759.2,191.4 759.3,192.4 759.4,193.5 759.7,194.7 760.1,195.8 760.6,196.9 761.2,198.1 761.9,199.1 762.6,200.1 763.4,201.0 764.2,201.8 765.1,202.5 766.0,203.1 766.9,203.6 767.8,203.9 768.6,204.0 769.4,204.0 770.1,203.9 770.8,203.6" fill="#fff" stroke="none" stroke-width="0" stroke-linejoin="round"/>
<rect x="775.4" y="195.2" width="3.0" height="3.8" fill="#fff" stroke="#222" stroke-width="0.7" transform="rotate(-30 777 197)"/>
<polygon points="770.8,209.9 771.7,209.2 772.5,208.3 773.2,207.2 773.6,205.9 773.9,204.4 774.0,202.8 773.9,201.1 773.6,199.3 773.2,197.5 772.5,195.7 771.7,193.8 770.8,192.0 769.7,190.3 768.5,188.7 767.2,187.2 765.9,185.9 764.5,184.8 763.0,183.8 761.6,183.1 760.2,182.6 758.9,182.4 757.6,182.4 756.4,182.6 755.3,183.1 753.0,184.4 752.1,185.1 751.3,186.0 750.7,187.1 750.2,188.4 749.9,189.9 749.8,191.5 749.9,193.2 750.2,195.0 750.7,196.8 751.3,198.6 752.1,200.5 753.1,202.3 754.1,204.0 755.3,205.6 756.6,207.1 758.0,208.4 759.4,209.5 760.8,210.5 762.2,211.2 763.6,211.7 765.0,211.9 766.3,211.9 767.5,211.7 768.5,211.2" fill="#fff" stroke="#1c1c1c" stroke-width="1.1" stroke-linejoin="round"/>
<ellipse cx="760.8" cy="197.8" rx="8.94" ry="15.50" transform="rotate(-30 760.8 197.8)" fill="#fff" stroke="#1c1c1c" stroke-width="1.1" />
<ellipse cx="760.8" cy="197.8" rx="8.94" ry="15.50" transform="rotate(-30 760.8 197.8)" fill="#fff" stroke="#1c1c1c" stroke-width="1.1" />
<ellipse cx="760.8" cy="197.8" rx="7.39" ry="12.80" transform="rotate(-30 760.8 197.8)" fill="#fff" stroke="#1c1c1c" stroke-width="0.9" />
<clipPath id="cp10"><ellipse cx="760.8" cy="197.8" rx="7.39" ry="12.80" transform="rotate(-30 760.8 197.8)"/></clipPath>
<g clip-path="url(#cp10)"><ellipse cx="763.9" cy="196.0" rx="7.39" ry="12.8" transform="rotate(-30 763.9 196.0)" fill="url(#mesh2)" stroke="#333" stroke-width="0.7"/></g>
<polygon points="755.2,207.5 759.6,210.8 761.2,213.2 757.4,212.6" fill="#fff" stroke="#1c1c1c" stroke-width="0.9" stroke-linejoin="round"/>
<line x1="755.2" y1="207.5" x2="759.8" y2="206.6" stroke="#1c1c1c" stroke-width="0.9" stroke-linecap="butt"/>
<polygon points="804.5,186.3 805.1,185.8 805.6,185.2 806.1,184.5 806.4,183.6 806.6,182.6 806.6,181.5 806.6,180.4 806.4,179.2 806.1,178.0 805.6,176.7 805.1,175.5 804.5,174.3 803.7,173.1 802.9,172.1 802.1,171.1 801.2,170.2 800.2,169.4 799.3,168.8 798.3,168.3 797.4,168.0 796.4,167.8 795.6,167.8 794.8,168.0 794.1,168.3 789.3,171.0 788.7,171.5 788.1,172.1 787.7,172.9 787.4,173.7 787.2,174.7 787.1,175.8 787.2,176.9 787.4,178.1 787.7,179.4 788.1,180.6 788.7,181.8 789.3,183.0 790.0,184.2 790.8,185.3 791.7,186.3 792.6,187.1 793.5,187.9 794.5,188.5 795.5,189.0 796.4,189.3 797.3,189.5 798.2,189.5 799.0,189.4 799.7,189.0" fill="url(#knurlB)" stroke="#1c1c1c" stroke-width="0.9" stroke-linejoin="round"/>
<ellipse cx="794.5" cy="180.0" rx="6.00" ry="10.40" transform="rotate(-30 794.5 180.0)" fill="url(#knurlB)" stroke="#1c1c1c" stroke-width="0.9" />
<polygon points="799.9,189.2 800.5,188.7 801.0,188.1 801.5,187.3 801.8,186.4 802.0,185.4 802.0,184.3 802.0,183.2 801.8,181.9 801.5,180.7 801.0,179.4 800.5,178.2 799.8,176.9 799.1,175.8 798.3,174.7 797.4,173.7 796.5,172.8 795.5,172.0 794.5,171.4 793.6,170.9 792.6,170.5 791.7,170.4 790.8,170.3 790.0,170.5 789.3,170.8 787.0,172.1 786.4,172.6 785.8,173.2 785.4,174.0 785.1,174.9 784.9,175.9 784.8,177.0 784.9,178.1 785.1,179.4 785.4,180.6 785.8,181.9 786.4,183.1 787.0,184.4 787.7,185.5 788.6,186.6 789.4,187.6 790.4,188.5 791.3,189.3 792.3,190.0 793.3,190.5 794.2,190.8 795.2,191.0 796.0,191.0 796.9,190.8 797.6,190.5" fill="#fff" stroke="#1c1c1c" stroke-width="1.0" stroke-linejoin="round"/>
<ellipse cx="792.3" cy="181.3" rx="6.12" ry="10.60" transform="rotate(-30 792.3 181.3)" fill="#fff" stroke="#1c1c1c" stroke-width="1.0" />
<ellipse cx="792.3" cy="181.3" rx="4.85" ry="8.40" transform="rotate(-30 792.3 181.3)" fill="#eee" stroke="#555" stroke-width="0.7" />
<polygon points="795.2,186.6 795.5,186.3 795.9,185.9 796.1,185.5 796.3,185.0 796.4,184.4 796.4,183.8 796.4,183.2 796.3,182.5 796.1,181.8 795.9,181.0 795.5,180.3 795.2,179.6 794.8,179.0 794.3,178.4 793.8,177.8 793.3,177.3 792.7,176.8 792.2,176.5 791.6,176.2 791.1,176.0 790.6,175.9 790.1,175.9 789.6,176.0 789.2,176.2 785.2,178.5 784.8,178.7 784.5,179.1 784.3,179.5 784.1,180.0 784.0,180.6 784.0,181.2 784.0,181.9 784.1,182.6 784.3,183.3 784.5,184.0 784.8,184.7 785.2,185.4 785.6,186.1 786.1,186.7 786.6,187.3 787.1,187.8 787.6,188.2 788.2,188.6 788.8,188.8 789.3,189.0 789.8,189.1 790.3,189.1 790.8,189.1 791.2,188.9" fill="#fff" stroke="#1c1c1c" stroke-width="0.9" stroke-linejoin="round"/>
<ellipse cx="788.2" cy="183.7" rx="3.46" ry="6.00" transform="rotate(-30 788.2 183.7)" fill="#fff" stroke="#1c1c1c" stroke-width="0.9" />
<polygon points="790.2,187.3 790.5,187.2 790.7,186.9 790.9,186.6 791.0,186.2 791.1,185.9 791.1,185.4 791.1,185.0 791.0,184.5 790.9,184.0 790.7,183.5 790.5,183.0 790.2,182.5 790.0,182.0 789.6,181.6 789.3,181.2 788.9,180.8 788.5,180.5 788.1,180.3 787.8,180.1 787.4,179.9 787.0,179.9 786.7,179.9 786.3,179.9 786.0,180.1 783.1,181.8 782.8,182.0 782.6,182.2 782.5,182.5 782.3,182.9 782.3,183.3 782.2,183.7 782.3,184.2 782.3,184.6 782.5,185.1 782.6,185.6 782.8,186.1 783.1,186.6 783.4,187.1 783.7,187.5 784.1,187.9 784.4,188.3 784.8,188.6 785.2,188.8 785.6,189.0 786.0,189.2 786.3,189.2 786.7,189.2 787.0,189.2 787.3,189.0" fill="#ddd" stroke="#1c1c1c" stroke-width="0.9" stroke-linejoin="round"/>
<ellipse cx="785.2" cy="185.4" rx="2.42" ry="4.20" transform="rotate(-30 785.2 185.4)" fill="#ddd" stroke="#1c1c1c" stroke-width="0.9" />
<ellipse cx="785.2" cy="185.4" rx="1.33" ry="2.30" transform="rotate(-30 785.2 185.4)" fill="#333" stroke="#1c1c1c" stroke-width="0.6" />
<polygon points="844.2,160.3 844.8,159.9 845.3,159.3 845.7,158.6 846.0,157.8 846.1,156.9 846.2,156.0 846.1,154.9 846.0,153.9 845.7,152.7 845.3,151.6 844.8,150.5 844.2,149.4 843.6,148.4 842.9,147.4 842.1,146.5 841.3,145.7 840.4,145.0 839.5,144.5 838.7,144.0 837.8,143.7 837.0,143.6 836.2,143.6 835.5,143.7 834.8,144.0 829.2,147.2 828.6,147.7 828.2,148.2 827.8,148.9 827.5,149.7 827.3,150.6 827.3,151.5 827.3,152.6 827.5,153.7 827.8,154.8 828.2,155.9 828.7,157.0 829.2,158.1 829.9,159.1 830.6,160.1 831.4,161.0 832.2,161.8 833.1,162.5 833.9,163.1 834.8,163.5 835.6,163.8 836.5,163.9 837.2,164.0 838.0,163.8 838.6,163.5" fill="url(#knurlB)" stroke="#1c1c1c" stroke-width="0.9" stroke-linejoin="round"/>
<ellipse cx="833.9" cy="155.4" rx="5.42" ry="9.40" transform="rotate(-30 833.9 155.4)" fill="url(#knurlB)" stroke="#1c1c1c" stroke-width="0.9" />
<polygon points="840.7,166.0 841.4,165.5 842.1,164.7 842.6,163.8 843.0,162.8 843.2,161.6 843.3,160.3 843.2,158.9 843.0,157.4 842.6,156.0 842.1,154.4 841.4,153.0 840.6,151.5 839.8,150.1 838.8,148.8 837.8,147.6 836.7,146.5 835.5,145.6 834.4,144.8 833.2,144.3 832.0,143.9 830.9,143.7 829.9,143.7 828.9,143.8 828.1,144.2 821.6,148.0 820.8,148.5 820.1,149.3 819.6,150.2 819.3,151.3 819.0,152.4 819.0,153.7 819.0,155.1 819.3,156.6 819.6,158.1 820.1,159.6 820.8,161.1 821.6,162.5 822.4,163.9 823.4,165.2 824.5,166.4 825.6,167.5 826.7,168.4 827.9,169.2 829.0,169.8 830.2,170.2 831.3,170.4 832.3,170.4 833.3,170.2 834.2,169.8" fill="#fff" stroke="#1c1c1c" stroke-width="1.1" stroke-linejoin="round"/>
<ellipse cx="827.9" cy="158.9" rx="7.27" ry="12.60" transform="rotate(-30 827.9 158.9)" fill="#fff" stroke="#1c1c1c" stroke-width="1.1" />
<polygon points="836.2,171.4 837.1,170.7 837.9,169.8 838.5,168.7 839.0,167.5 839.2,166.1 839.3,164.5 839.2,162.9 839.0,161.1 838.5,159.4 837.9,157.6 837.1,155.8 836.2,154.1 835.2,152.4 834.0,150.8 832.8,149.4 831.5,148.1 830.1,147.0 828.7,146.1 827.3,145.4 826.0,145.0 824.7,144.7 823.4,144.7 822.3,144.9 821.2,145.4 816.0,148.4 815.1,149.1 814.3,150.0 813.7,151.0 813.3,152.3 813.0,153.7 812.9,155.3 813.0,156.9 813.3,158.6 813.7,160.4 814.3,162.2 815.1,164.0 816.0,165.7 817.1,167.4 818.2,168.9 819.5,170.4 820.8,171.6 822.1,172.7 823.5,173.6 824.9,174.3 826.3,174.8 827.6,175.0 828.8,175.1 830.0,174.8 831.0,174.4" fill="#fff" stroke="#1c1c1c" stroke-width="1.2" stroke-linejoin="round"/>
<polygon points="832.4,174.7 833.4,174.0 834.2,173.1 834.8,171.9 835.3,170.6 835.6,169.1 835.7,167.4 835.6,165.7 835.3,163.8 834.8,161.9 834.2,160.0 833.4,158.1 832.4,156.3 831.3,154.5 830.0,152.8 828.7,151.3 827.3,150.0 825.9,148.8 824.4,147.8 822.9,147.1 821.5,146.6 820.1,146.3 818.7,146.3 817.5,146.5 816.4,147.0 808.6,151.5 807.6,152.3 806.8,153.2 806.1,154.4 805.7,155.7 805.4,157.2 805.3,158.9 805.4,160.6 805.7,162.5 806.2,164.3 806.8,166.3 807.6,168.2 808.6,170.0 809.7,171.8 810.9,173.4 812.3,175.0 813.7,176.3 815.1,177.5 816.6,178.4 818.1,179.2 819.5,179.7 820.9,180.0 822.3,180.0 823.5,179.7 824.6,179.2" fill="#fff" stroke="#1c1c1c" stroke-width="1.4" stroke-linejoin="round"/>
<polyline points="827.3,177.6 829.0,176.6 830.2,175.0 831.0,173.0 831.4,170.5 831.2,167.7 830.6,164.7 829.5,161.7 828.1,158.8 826.2,156.0 824.2,153.6 821.9,151.6 819.6,150.1 817.3,149.1 815.1,148.8 813.1,149.1 811.4,150.0" fill="none" stroke="#111" stroke-width="1.6" stroke-linejoin="round"/>
<polyline points="831.2,175.3 832.9,174.3 834.1,172.8 834.9,170.7 835.3,168.2 835.1,165.5 834.5,162.5 833.4,159.5 832.0,156.5 830.1,153.8 828.1,151.3 825.8,149.3 823.5,147.8 821.1,146.9 819.0,146.5 817.0,146.8 815.3,147.7" fill="none" stroke="#111" stroke-width="1.4" stroke-linejoin="round"/>
<polyline points="833.4,173.0 834.9,172.0 836.1,170.5 836.8,168.6 837.2,166.3 837.0,163.7 836.4,160.9 835.4,158.1 834.1,155.3 832.4,152.7 830.4,150.4 828.3,148.6 826.1,147.1 823.9,146.3 821.9,145.9 820.0,146.2 818.4,147.1" fill="none" stroke="#111" stroke-width="1.0" stroke-linejoin="round"/>
<line x1="830.7" y1="174.0" x2="834.6" y2="171.7" stroke="#111" stroke-width="1.4" stroke-linecap="butt"/>
<line x1="830.3" y1="163.8" x2="834.2" y2="161.5" stroke="#111" stroke-width="1.4" stroke-linecap="butt"/>
<line x1="823.9" y1="153.3" x2="827.8" y2="151.1" stroke="#111" stroke-width="1.4" stroke-linecap="butt"/>
<line x1="815.3" y1="148.8" x2="819.2" y2="146.5" stroke="#111" stroke-width="1.4" stroke-linecap="butt"/>
<rect x="834.6" y="165.6" width="4" height="4.8" fill="#fff" stroke="#111" stroke-width="1.0" transform="rotate(-30 836.6 168.0)"/>
<ellipse cx="816.6" cy="165.4" rx="9.23" ry="16.00" transform="rotate(-30 816.6 165.4)" fill="#fff" stroke="#111" stroke-width="2.4" />
<ellipse cx="817.0" cy="165.2" rx="7.50" ry="13.00" transform="rotate(-30 817.0 165.2)" fill="#fff" stroke="#111" stroke-width="1.5" />
<clipPath id="cp11"><ellipse cx="817.0" cy="165.2" rx="7.50" ry="13.00" transform="rotate(-30 817.0 165.2)"/></clipPath>
<g clip-path="url(#cp11)" stroke="#111" fill="none">
<ellipse cx="820.5" cy="163.1" rx="6.92" ry="12.0" transform="rotate(-30 820.5 163.1)" stroke-width="1.8"/>
<ellipse cx="823.5" cy="161.4" rx="4.96" ry="8.6" transform="rotate(-30 823.5 161.4)" stroke-width="1.3"/>
<path d="M813.1,156.4 L820.1,164.4 M817.1,153.4 L822.6,160.4 M813.6,169.4 L821.6,173.9 M814.6,162.9 L819.6,159.9 M811.1,164.4 L815.6,166.9" stroke-width="1.5"/>
</g>
<g transform="translate(861.6,141.1)">
<path d="M-21.3,-29.7 L-5.6,-38.8 L13.2,-28.6 L13.2,-28.6 C15.1,-26.9 22.0,-21.6 24.9,-18.1 C27.8,-14.6 29.7,-10.6 30.7,-7.5 C31.7,-4.4 31.7,-1.8 30.9,0.7 C30.1,3.2 29.1,5.2 26.0,7.7 C22.9,10.2 15.7,14.1 12.0,15.9 C8.3,17.7 5.3,18.2 4.0,18.6 L4.0,18.6 C2.3,17.8 -3.2,17.1 -6.0,14.0 C-8.8,10.9 -11.8,4.4 -12.5,0.0 C-13.2,-4.4 -10.4,-9.4 -10.2,-12.2 C-10.0,-15.0 -10.6,-15.0 -11.4,-16.9 C-12.2,-18.8 -13.3,-21.8 -14.9,-23.3 C-16.5,-24.9 -19.8,-25.7 -20.8,-26.2 Z" fill="#fff" stroke="#222" stroke-width="1.15" stroke-linejoin="round"/>
<path d="M-20.8,-26.2 C-18.9,-25.3 -13.0,-22.9 -9.1,-21.0 C-5.2,-19.1 -0.9,-16.8 2.6,-14.5 C6.1,-12.2 9.8,-10.4 12.0,-7.5 C14.2,-4.6 15.4,-0.3 15.6,3.0 C15.8,6.3 14.6,10.0 13.4,12.4 C12.2,14.8 9.3,16.4 8.5,17.2" fill="none" stroke="#222" stroke-width="0.9"/>
<path d="M-19.6,-27.8 C-17.7,-26.9 -12.0,-24.6 -8.1,-22.6 C-4.2,-20.6 0.3,-18.4 4.0,-16.0 C7.7,-13.6 11.9,-11.5 14.2,-8.3 C16.5,-5.1 17.7,-0.5 17.9,3.0 C18.1,6.5 16.8,10.5 15.6,12.8 C14.4,15.1 11.8,16.3 11.0,17.0" fill="none" stroke="#555" stroke-width="0.7"/>
<g transform="translate(0,0.0) rotate(24)"><rect x="-18.6" y="-28.2" width="28.0" height="9.6" rx="4.8" fill="#fff" stroke="#222" stroke-width="1.1"/><rect x="-16.8" y="-26.6" width="24.4" height="6.4" rx="3.2" fill="none" stroke="#333" stroke-width="0.8"/><ellipse cx="3.8" cy="-23.4" rx="5.6" ry="3.7" fill="#f4f4f4" stroke="#222" stroke-width="1.1"/></g>
</g>
<ellipse cx="861.4" cy="141.2" rx="10.04" ry="17.40" transform="rotate(-30 861.4 141.2)" fill="#fff" stroke="#111" stroke-width="1.7" />
<ellipse cx="862.2" cy="141.9" rx="8.19" ry="14.20" transform="rotate(-30 862.2 141.9)" fill="#fff" stroke="#111" stroke-width="1.2" />
<clipPath id="cp12"><ellipse cx="862.2" cy="141.9" rx="8.19" ry="14.20" transform="rotate(-30 862.2 141.9)"/></clipPath>
<g clip-path="url(#cp12)">
<ellipse cx="865.2" cy="137.9" rx="6.92" ry="12.0" transform="rotate(-30 865.2 137.9)" fill="url(#knurlV)" stroke="#222" stroke-width="0.8"/>
<ellipse cx="861.6" cy="147.5" rx="7.15" ry="12.4" transform="rotate(-30 861.6 147.5)" fill="#fff" stroke="#222" stroke-width="1.0"/>
</g>
<line x1="850.5" y1="147.7" x2="858.5" y2="143.1" stroke="#1c1c1c" stroke-width="0.8" stroke-linecap="butt"/>
<path d="M893.6,120.2 L906.8,112.6 L908.8,116.2 L895.6,123.8 L892.2,124.0 L891.4,122.4 Z" fill="#fff" stroke="#1a1a1a" stroke-width="1.3" stroke-linejoin="round"/>
<ellipse cx="908.4" cy="113.8" rx="1.8" ry="3.6" transform="rotate(-30 908.4 113.8)" fill="#fff" stroke="#1a1a1a" stroke-width="1.5"/>
<path d="M890.8,122.2 L893.8,121.2 L895.0,123.8 L892.0,124.8 Z" fill="#222"/>
<line x1="911.6" y1="112.6" x2="919.6" y2="107.6" stroke="#1c1c1c" stroke-width="0.9" stroke-linecap="butt"/>
<rect x="924.3" y="114.3" width="6.2" height="3.0" fill="#fff" stroke="#161616" stroke-width="0.9" transform="rotate(-30 927.4 115.8)"/>
<ellipse cx="930.8" cy="101.5" rx="10.85" ry="18.80" transform="rotate(-30 930.8 101.5)" fill="#fff" stroke="#161616" stroke-width="1.6" />
<rect x="925.0" y="89.3" width="5.2" height="2.4" rx="1" fill="#222" transform="rotate(-30 927.6 90.5)"/>
<rect x="928.0" y="88.6" width="1.8" height="1.4" fill="#eee" transform="rotate(-30 927.6 90.5)"/>
<rect x="938.0" y="107.0" width="2.8" height="3.2" rx="0.8" fill="#fff" stroke="#222" stroke-width="0.9" transform="rotate(-30 939.4 108.6)"/>
<line x1="924.6" y1="105.1" x2="928.6" y2="102.3" stroke="#1c1c1c" stroke-width="0.9" stroke-linecap="butt"/>
<line x1="943.0" y1="116.9" x2="948.5" y2="120.0" stroke="#1c1c1c" stroke-width="0.9" stroke-linecap="butt"/>
<line x1="486.0" y1="357.2" x2="505.0" y2="346.2" stroke="#1c1c1c" stroke-width="0.8" stroke-dasharray="7 2 1.5 2" stroke-linecap="butt"/>
<line x1="407.0" y1="403.1" x2="430.0" y2="389.7" stroke="#1c1c1c" stroke-width="0.8" stroke-dasharray="7 2 1.5 2" stroke-linecap="butt"/>
<line x1="376.0" y1="421.0" x2="392.0" y2="411.8" stroke="#1c1c1c" stroke-width="0.8" stroke-linecap="butt"/>
<ellipse cx="476.5" cy="362.9" rx="10.14" ry="13" transform="rotate(-30 476.5 362.9)" fill="url(#mesh)" stroke="#222" stroke-width="1.0"/>
<polygon points="483.0,374.1 483.8,373.5 484.5,372.8 485.0,371.8 485.4,370.7 485.6,369.5 485.7,368.2 485.6,366.7 485.4,365.2 485.0,363.7 484.5,362.1 483.8,360.6 483.0,359.1 482.1,357.7 481.1,356.3 480.0,355.1 478.9,354.0 477.7,353.0 476.5,352.2 475.3,351.6 474.1,351.2 473.0,351.0 471.9,351.0 470.9,351.2 470.0,351.6 454.0,360.8 453.2,361.4 452.5,362.2 452.0,363.1 451.6,364.2 451.4,365.5 451.3,366.8 451.4,368.2 451.6,369.7 452.0,371.3 452.6,372.8 453.2,374.3 454.0,375.9 454.9,377.3 455.9,378.6 457.0,379.9 458.1,381.0 459.3,381.9 460.5,382.7 461.7,383.3 462.9,383.7 464.0,383.9 465.1,383.9 466.1,383.8 467.0,383.4" fill="url(#mesh)" stroke="#1c1c1c" stroke-width="1.0" stroke-linejoin="round"/>
<ellipse cx="475.9" cy="363.2" rx="9.18" ry="12.4" transform="rotate(-30 475.9 363.2)" fill="url(#mesh)" stroke="none"/>
<polyline points="468.1,382.7 469.3,381.8 470.2,380.5 470.8,378.8 471.0,376.8 470.8,374.6 470.3,372.3 469.5,369.9 468.3,367.6 466.9,365.4 465.2,363.5 463.5,361.9 461.6,360.6 459.8,359.8 458.1,359.5 456.5,359.6 455.1,360.2" fill="none" stroke="#111" stroke-width="2.2" stroke-linejoin="round"/>
<polyline points="473.7,379.5 474.9,378.6 475.8,377.3 476.4,375.6 476.6,373.6 476.5,371.4 476.0,369.0 475.1,366.7 473.9,364.3 472.5,362.2 470.9,360.2 469.1,358.6 467.3,357.4 465.4,356.6 463.7,356.2 462.1,356.4 460.7,357.0" fill="none" stroke="#111" stroke-width="1.8" stroke-linejoin="round"/>
<polyline points="479.3,376.2 480.5,375.3 481.5,374.0 482.0,372.3 482.3,370.3 482.1,368.1 481.6,365.8 480.7,363.4 479.6,361.1 478.1,358.9 476.5,357.0 474.7,355.4 472.9,354.1 471.1,353.3 469.3,353.0 467.7,353.1 466.3,353.7" fill="none" stroke="#111" stroke-width="1.8" stroke-linejoin="round"/>
<polygon points="466.8,383.0 467.6,382.4 468.2,381.7 468.7,380.8 469.1,379.7 469.3,378.5 469.4,377.2 469.3,375.9 469.1,374.4 468.7,372.9 468.2,371.4 467.6,369.9 466.8,368.5 465.9,367.1 465.0,365.8 463.9,364.6 462.8,363.5 461.7,362.6 460.5,361.8 459.3,361.2 458.2,360.8 457.1,360.6 456.1,360.6 455.1,360.8 454.2,361.2 439.1,369.9 438.3,370.5 437.6,371.3 437.1,372.2 436.7,373.2 436.5,374.4 436.4,375.7 436.5,377.1 436.8,378.5 437.1,380.0 437.6,381.5 438.3,383.0 439.1,384.5 439.9,385.9 440.9,387.2 441.9,388.4 443.1,389.5 444.2,390.4 445.4,391.1 446.5,391.7 447.7,392.1 448.8,392.3 449.8,392.3 450.8,392.1 451.7,391.8" fill="#fff" stroke="#1c1c1c" stroke-width="1.0" stroke-linejoin="round"/>
<polyline points="453.4,390.8 454.6,389.7 455.5,388.1 455.9,386.1 455.9,383.8 455.5,381.3 454.6,378.7 453.4,376.2 451.8,373.9 450.0,371.8 448.1,370.2 446.1,369.1 444.1,368.4 442.3,368.4 440.8,368.9" fill="none" stroke="#222" stroke-width="1.6" stroke-linejoin="round"/>
<polyline points="456.4,389.0 457.7,387.9 458.5,386.4 459.0,384.4 459.0,382.1 458.5,379.6 457.7,377.0 456.4,374.5 454.9,372.1 453.1,370.1 451.1,368.5 449.1,367.3 447.2,366.7 445.4,366.7 443.8,367.2" fill="none" stroke="#222" stroke-width="1.0" stroke-linejoin="round"/>
<polyline points="459.4,387.3 460.7,386.2 461.6,384.6 462.0,382.6 462.0,380.3 461.6,377.8 460.7,375.2 459.4,372.7 457.9,370.4 456.1,368.3 454.1,366.7 452.1,365.6 450.2,364.9 448.4,364.9 446.8,365.4" fill="none" stroke="#222" stroke-width="1.0" stroke-linejoin="round"/>
<polyline points="463.3,385.0 464.6,383.9 465.5,382.4 465.9,380.4 465.9,378.1 465.5,375.6 464.6,373.0 463.3,370.5 461.8,368.1 460.0,366.1 458.0,364.5 456.0,363.3 454.1,362.7 452.3,362.7 450.7,363.2" fill="none" stroke="#222" stroke-width="1.3" stroke-linejoin="round"/>
<polyline points="465.5,383.8 466.8,382.7 467.6,381.1 468.1,379.1 468.1,376.8 467.6,374.3 466.8,371.7 465.5,369.2 463.9,366.9 462.1,364.8 460.2,363.2 458.2,362.1 456.3,361.4 454.5,361.4 452.9,361.9" fill="none" stroke="#222" stroke-width="1.0" stroke-linejoin="round"/>
<line x1="458.5" y1="386.5" x2="465.4" y2="382.5" stroke="#222" stroke-width="1.3" stroke-linecap="butt"/>
<line x1="458.2" y1="378.4" x2="465.1" y2="374.4" stroke="#222" stroke-width="1.3" stroke-linecap="butt"/>
<line x1="452.4" y1="369.5" x2="459.3" y2="365.5" stroke="#222" stroke-width="1.3" stroke-linecap="butt"/>
<line x1="445.7" y1="366.6" x2="452.6" y2="362.6" stroke="#222" stroke-width="1.3" stroke-linecap="butt"/>
<line x1="462.0" y1="381.0" x2="465.9" y2="378.7" stroke="#333" stroke-width="2.2" stroke-linecap="butt"/>
<line x1="452.1" y1="365.5" x2="456.0" y2="363.3" stroke="#333" stroke-width="2.2" stroke-linecap="butt"/>
<polygon points="451.6,391.6 452.3,391.0 452.9,390.3 453.5,389.4 453.8,388.4 454.0,387.2 454.1,385.9 454.0,384.5 453.8,383.1 453.5,381.7 452.9,380.2 452.3,378.7 451.5,377.3 450.7,375.9 449.7,374.6 448.7,373.4 447.6,372.4 446.5,371.5 445.4,370.7 444.2,370.2 443.1,369.8 442.0,369.6 441.0,369.6 440.0,369.7 439.2,370.1 436.1,371.9 435.4,372.4 434.7,373.2 434.2,374.0 433.9,375.1 433.6,376.3 433.6,377.5 433.6,378.9 433.9,380.3 434.2,381.8 434.7,383.3 435.4,384.7 436.1,386.2 437.0,387.5 437.9,388.8 439.0,390.0 440.1,391.1 441.2,392.0 442.3,392.7 443.5,393.3 444.6,393.7 445.7,393.9 446.7,393.9 447.7,393.7 448.5,393.3" fill="#fff" stroke="#1c1c1c" stroke-width="1.1" stroke-linejoin="round"/>
<ellipse cx="442.3" cy="382.6" rx="7.15" ry="12.40" transform="rotate(-30 442.3 382.6)" fill="#fff" stroke="#1c1c1c" stroke-width="1.1" />
<ellipse cx="442.3" cy="382.6" rx="6.00" ry="10.40" transform="rotate(-30 442.3 382.6)" fill="#fff" stroke="#1c1c1c" stroke-width="0.7" />
<rect x="449.0" y="391.0" width="4.4" height="2.6" fill="#fff" stroke="#222" stroke-width="0.7" transform="rotate(-30 450.8 392.0)"/>
<polygon points="447.1,389.8 447.6,389.4 448.0,388.9 448.4,388.3 448.6,387.6 448.8,386.7 448.8,385.9 448.8,384.9 448.6,383.9 448.4,382.9 448.0,381.9 447.6,380.9 447.1,379.9 446.5,378.9 445.8,378.0 445.1,377.2 444.3,376.5 443.5,375.8 442.8,375.3 442.0,374.9 441.2,374.7 440.4,374.5 439.7,374.5 439.1,374.6 438.5,374.9 430.2,379.7 429.7,380.0 429.3,380.5 428.9,381.2 428.7,381.9 428.5,382.7 428.4,383.6 428.5,384.5 428.7,385.5 428.9,386.5 429.3,387.6 429.7,388.6 430.2,389.6 430.8,390.5 431.5,391.4 432.2,392.2 433.0,393.0 433.7,393.6 434.5,394.1 435.3,394.5 436.1,394.8 436.9,394.9 437.6,394.9 438.2,394.8 438.8,394.5" fill="#fff" stroke="#1c1c1c" stroke-width="0.9" stroke-linejoin="round"/>
<polygon points="439.8,394.3 440.4,393.9 440.8,393.4 441.2,392.7 441.5,392.0 441.6,391.2 441.7,390.2 441.6,389.3 441.5,388.2 441.2,387.2 440.8,386.1 440.4,385.1 439.8,384.0 439.2,383.0 438.5,382.1 437.8,381.3 437.0,380.5 436.2,379.9 435.4,379.3 434.6,378.9 433.8,378.6 433.0,378.5 432.2,378.5 431.6,378.6 430.9,378.9 423.2,383.4 422.6,383.8 422.2,384.3 421.8,385.0 421.5,385.7 421.4,386.5 421.3,387.5 421.4,388.4 421.5,389.5 421.8,390.5 422.2,391.6 422.6,392.6 423.2,393.7 423.8,394.7 424.5,395.6 425.2,396.4 426.0,397.2 426.8,397.8 427.6,398.4 428.4,398.8 429.2,399.1 430.0,399.2 430.7,399.2 431.4,399.1 432.1,398.8" fill="url(#knurlB)" stroke="#1c1c1c" stroke-width="1.0" stroke-linejoin="round"/>
<ellipse cx="427.6" cy="391.1" rx="5.14" ry="8.90" transform="rotate(-30 427.6 391.1)" fill="#fff" stroke="#1c1c1c" stroke-width="1.0" />
<ellipse cx="427.6" cy="391.1" rx="5.14" ry="8.90" transform="rotate(-30 427.6 391.1)" fill="#fff" stroke="#1c1c1c" stroke-width="1.0" />
<circle cx="427.6" cy="391.5" r="1.4" fill="#111"/>
<ellipse cx="329.9" cy="362.9" rx="10.14" ry="13" transform="rotate(-30 329.9 362.9)" fill="url(#mesh)" stroke="#222" stroke-width="1.0"/>
<polygon points="336.4,374.1 337.2,373.5 337.9,372.8 338.4,371.8 338.8,370.7 339.0,369.5 339.1,368.2 339.0,366.7 338.8,365.2 338.4,363.7 337.9,362.1 337.2,360.6 336.4,359.1 335.5,357.7 334.5,356.3 333.4,355.1 332.3,354.0 331.1,353.0 329.9,352.2 328.7,351.6 327.5,351.2 326.4,351.0 325.3,351.0 324.3,351.2 323.4,351.6 307.4,360.8 306.6,361.4 305.9,362.2 305.4,363.1 305.0,364.2 304.8,365.5 304.7,366.8 304.8,368.2 305.0,369.7 305.4,371.3 306.0,372.8 306.6,374.3 307.4,375.9 308.3,377.3 309.3,378.6 310.4,379.9 311.5,381.0 312.7,381.9 313.9,382.7 315.1,383.3 316.3,383.7 317.4,383.9 318.5,383.9 319.5,383.8 320.4,383.4" fill="url(#mesh)" stroke="#1c1c1c" stroke-width="1.0" stroke-linejoin="round"/>
<ellipse cx="329.3" cy="363.2" rx="9.18" ry="12.4" transform="rotate(-30 329.3 363.2)" fill="url(#mesh)" stroke="none"/>
<polyline points="321.5,382.7 322.7,381.8 323.6,380.5 324.2,378.8 324.4,376.8 324.2,374.6 323.7,372.3 322.9,369.9 321.7,367.6 320.3,365.4 318.6,363.5 316.9,361.9 315.0,360.6 313.2,359.8 311.5,359.5 309.9,359.6 308.5,360.2" fill="none" stroke="#111" stroke-width="2.2" stroke-linejoin="round"/>
<polyline points="327.1,379.5 328.3,378.6 329.2,377.3 329.8,375.6 330.0,373.6 329.9,371.4 329.4,369.0 328.5,366.7 327.3,364.3 325.9,362.2 324.3,360.2 322.5,358.6 320.7,357.4 318.8,356.6 317.1,356.2 315.5,356.4 314.1,357.0" fill="none" stroke="#111" stroke-width="1.8" stroke-linejoin="round"/>
<polyline points="332.7,376.2 333.9,375.3 334.9,374.0 335.4,372.3 335.7,370.3 335.5,368.1 335.0,365.8 334.1,363.4 333.0,361.1 331.5,358.9 329.9,357.0 328.1,355.4 326.3,354.1 324.5,353.3 322.7,353.0 321.1,353.1 319.7,353.7" fill="none" stroke="#111" stroke-width="1.8" stroke-linejoin="round"/>
<polygon points="320.2,383.0 321.0,382.4 321.6,381.7 322.1,380.8 322.5,379.7 322.7,378.5 322.8,377.2 322.7,375.9 322.5,374.4 322.1,372.9 321.6,371.4 321.0,369.9 320.2,368.5 319.3,367.1 318.4,365.8 317.3,364.6 316.2,363.5 315.1,362.6 313.9,361.8 312.7,361.2 311.6,360.8 310.5,360.6 309.5,360.6 308.5,360.8 307.6,361.2 292.5,369.9 291.7,370.5 291.0,371.3 290.5,372.2 290.1,373.2 289.9,374.4 289.8,375.7 289.9,377.1 290.2,378.5 290.5,380.0 291.0,381.5 291.7,383.0 292.5,384.5 293.3,385.9 294.3,387.2 295.3,388.4 296.5,389.5 297.6,390.4 298.8,391.1 299.9,391.7 301.1,392.1 302.2,392.3 303.2,392.3 304.2,392.1 305.1,391.8" fill="#fff" stroke="#1c1c1c" stroke-width="1.0" stroke-linejoin="round"/>
<polyline points="306.8,390.8 308.0,389.7 308.9,388.1 309.3,386.1 309.3,383.8 308.9,381.3 308.0,378.7 306.8,376.2 305.2,373.9 303.4,371.8 301.5,370.2 299.5,369.1 297.5,368.4 295.7,368.4 294.2,368.9" fill="none" stroke="#222" stroke-width="1.6" stroke-linejoin="round"/>
<polyline points="309.8,389.0 311.1,387.9 311.9,386.4 312.4,384.4 312.4,382.1 311.9,379.6 311.1,377.0 309.8,374.5 308.3,372.1 306.5,370.1 304.5,368.5 302.5,367.3 300.6,366.7 298.8,366.7 297.2,367.2" fill="none" stroke="#222" stroke-width="1.0" stroke-linejoin="round"/>
<polyline points="312.8,387.3 314.1,386.2 315.0,384.6 315.4,382.6 315.4,380.3 315.0,377.8 314.1,375.2 312.8,372.7 311.3,370.4 309.5,368.3 307.5,366.7 305.5,365.6 303.6,364.9 301.8,364.9 300.2,365.4" fill="none" stroke="#222" stroke-width="1.0" stroke-linejoin="round"/>
<polyline points="316.7,385.0 318.0,383.9 318.9,382.4 319.3,380.4 319.3,378.1 318.9,375.6 318.0,373.0 316.7,370.5 315.2,368.1 313.4,366.1 311.4,364.5 309.4,363.3 307.5,362.7 305.7,362.7 304.1,363.2" fill="none" stroke="#222" stroke-width="1.3" stroke-linejoin="round"/>
<polyline points="318.9,383.8 320.2,382.7 321.0,381.1 321.5,379.1 321.5,376.8 321.0,374.3 320.2,371.7 318.9,369.2 317.3,366.9 315.5,364.8 313.6,363.2 311.6,362.1 309.7,361.4 307.9,361.4 306.3,361.9" fill="none" stroke="#222" stroke-width="1.0" stroke-linejoin="round"/>
<line x1="311.9" y1="386.5" x2="318.8" y2="382.5" stroke="#222" stroke-width="1.3" stroke-linecap="butt"/>
<line x1="311.6" y1="378.4" x2="318.5" y2="374.4" stroke="#222" stroke-width="1.3" stroke-linecap="butt"/>
<line x1="305.8" y1="369.5" x2="312.7" y2="365.5" stroke="#222" stroke-width="1.3" stroke-linecap="butt"/>
<line x1="299.1" y1="366.6" x2="306.0" y2="362.6" stroke="#222" stroke-width="1.3" stroke-linecap="butt"/>
<line x1="315.4" y1="381.0" x2="319.3" y2="378.7" stroke="#333" stroke-width="2.2" stroke-linecap="butt"/>
<line x1="305.5" y1="365.5" x2="309.4" y2="363.3" stroke="#333" stroke-width="2.2" stroke-linecap="butt"/>
<polygon points="305.0,391.6 305.7,391.0 306.3,390.3 306.9,389.4 307.2,388.4 307.4,387.2 307.5,385.9 307.4,384.5 307.2,383.1 306.9,381.7 306.3,380.2 305.7,378.7 304.9,377.3 304.1,375.9 303.1,374.6 302.1,373.4 301.0,372.4 299.9,371.5 298.8,370.7 297.6,370.2 296.5,369.8 295.4,369.6 294.4,369.6 293.4,369.7 292.6,370.1 289.5,371.9 288.8,372.4 288.1,373.2 287.6,374.0 287.3,375.1 287.0,376.3 287.0,377.5 287.0,378.9 287.3,380.3 287.6,381.8 288.1,383.3 288.8,384.7 289.5,386.2 290.4,387.5 291.3,388.8 292.4,390.0 293.5,391.1 294.6,392.0 295.7,392.7 296.9,393.3 298.0,393.7 299.1,393.9 300.1,393.9 301.1,393.7 301.9,393.3" fill="#fff" stroke="#1c1c1c" stroke-width="1.1" stroke-linejoin="round"/>
<ellipse cx="295.7" cy="382.6" rx="7.15" ry="12.40" transform="rotate(-30 295.7 382.6)" fill="#fff" stroke="#1c1c1c" stroke-width="1.1" />
<ellipse cx="295.7" cy="382.6" rx="6.00" ry="10.40" transform="rotate(-30 295.7 382.6)" fill="#fff" stroke="#1c1c1c" stroke-width="0.7" />
<rect x="302.4" y="391.0" width="4.4" height="2.6" fill="#fff" stroke="#222" stroke-width="0.7" transform="rotate(-30 304.2 392.0)"/>
<polygon points="300.5,389.8 301.0,389.4 301.4,388.9 301.8,388.3 302.0,387.6 302.2,386.7 302.2,385.9 302.2,384.9 302.0,383.9 301.8,382.9 301.4,381.9 301.0,380.9 300.5,379.9 299.9,378.9 299.2,378.0 298.5,377.2 297.7,376.5 296.9,375.8 296.2,375.3 295.4,374.9 294.6,374.7 293.8,374.5 293.1,374.5 292.5,374.6 291.9,374.9 283.6,379.7 283.1,380.0 282.7,380.5 282.3,381.2 282.1,381.9 281.9,382.7 281.8,383.6 281.9,384.5 282.1,385.5 282.3,386.5 282.7,387.6 283.1,388.6 283.6,389.6 284.2,390.5 284.9,391.4 285.6,392.2 286.4,393.0 287.1,393.6 287.9,394.1 288.7,394.5 289.5,394.8 290.3,394.9 291.0,394.9 291.6,394.8 292.2,394.5" fill="#fff" stroke="#1c1c1c" stroke-width="0.9" stroke-linejoin="round"/>
<polygon points="293.2,394.3 293.8,393.9 294.2,393.4 294.6,392.7 294.9,392.0 295.0,391.2 295.1,390.2 295.0,389.3 294.9,388.2 294.6,387.2 294.2,386.1 293.8,385.1 293.2,384.0 292.6,383.0 291.9,382.1 291.2,381.3 290.4,380.5 289.6,379.9 288.8,379.3 288.0,378.9 287.2,378.6 286.4,378.5 285.6,378.5 285.0,378.6 284.3,378.9 276.6,383.4 276.0,383.8 275.6,384.3 275.2,385.0 274.9,385.7 274.8,386.5 274.7,387.5 274.8,388.4 274.9,389.5 275.2,390.5 275.6,391.6 276.0,392.6 276.6,393.7 277.2,394.7 277.9,395.6 278.6,396.4 279.4,397.2 280.2,397.8 281.0,398.4 281.8,398.8 282.6,399.1 283.4,399.2 284.1,399.2 284.8,399.1 285.4,398.8" fill="url(#knurlB)" stroke="#1c1c1c" stroke-width="1.0" stroke-linejoin="round"/>
<ellipse cx="281.0" cy="391.1" rx="5.14" ry="8.90" transform="rotate(-30 281.0 391.1)" fill="#fff" stroke="#1c1c1c" stroke-width="1.0" />
<ellipse cx="281.0" cy="391.1" rx="5.14" ry="8.90" transform="rotate(-30 281.0 391.1)" fill="#fff" stroke="#1c1c1c" stroke-width="1.0" />
<circle cx="281.0" cy="391.5" r="1.4" fill="#111"/>
<line x1="485.8" y1="358.9" x2="491.0" y2="355.5" stroke="#1c1c1c" stroke-width="0.8" stroke-linecap="butt"/>
<polygon points="412.2,416.3 413.1,415.7 413.8,414.8 414.4,413.8 414.8,412.6 415.1,411.2 415.2,409.7 415.1,408.1 414.8,406.5 414.4,404.8 413.8,403.0 413.1,401.3 412.2,399.7 411.2,398.1 410.1,396.6 408.9,395.2 407.6,394.0 406.3,392.9 405.0,392.1 403.7,391.4 402.4,391.0 401.1,390.7 399.9,390.7 398.8,390.9 397.8,391.4 391.3,395.1 390.4,395.8 389.7,396.6 389.1,397.7 388.7,398.9 388.4,400.2 388.3,401.7 388.4,403.3 388.7,404.9 389.1,406.6 389.7,408.4 390.4,410.1 391.3,411.7 392.3,413.3 393.4,414.8 394.6,416.2 395.9,417.4 397.2,418.5 398.5,419.3 399.8,420.0 401.1,420.5 402.4,420.7 403.6,420.7 404.7,420.5 405.7,420.1" fill="#fff" stroke="#1c1c1c" stroke-width="1.5" stroke-linejoin="round"/>
<ellipse cx="398.5" cy="407.6" rx="8.31" ry="14.40" transform="rotate(-30 398.5 407.6)" fill="#fff" stroke="#1c1c1c" stroke-width="1.5" />
<polyline points="408.0,418.5 409.3,418.0 410.5,417.0 411.4,415.8 412.0,414.2 412.3,412.4 412.3,410.3 412.0,408.1 411.4,405.8 410.5,403.6 409.3,401.3 408.0,399.2 406.4,397.3 404.8,395.7 403.0,394.3 401.2,393.3 399.5,392.6 397.8,392.3 396.3,392.5 394.9,393.0 393.8,393.9" fill="none" stroke="#333" stroke-width="2.2" stroke-dasharray="1.4 1.0" stroke-linejoin="round"/>
<polyline points="407.4,419.1 408.5,418.3 409.3,417.2 409.9,415.8 410.3,414.2 410.4,412.5 410.3,410.6 409.9,408.5 409.3,406.5 408.5,404.4 407.4,402.4 406.2,400.5 404.9,398.8 403.4,397.2 401.8,395.9 400.2,394.8 398.6,394.1 397.1,393.6 395.6,393.4 394.2,393.6 393.0,394.1" fill="none" stroke="#333" stroke-width="0.7" stroke-linejoin="round"/>
<ellipse cx="398.5" cy="407.6" rx="8.31" ry="14.40" transform="rotate(-30 398.5 407.6)" fill="#fff" stroke="#111" stroke-width="1.6" />
<ellipse cx="398.5" cy="407.6" rx="7.39" ry="12.80" transform="rotate(-30 398.5 407.6)" fill="#fff" stroke="#1c1c1c" stroke-width="1.0" />
<clipPath id="cp13"><ellipse cx="398.5" cy="407.6" rx="7.39" ry="12.80" transform="rotate(-30 398.5 407.6)"/></clipPath>
<g clip-path="url(#cp13)"><ellipse cx="405.0" cy="403.8" rx="7.62" ry="13.2" transform="rotate(-30 405.0 403.8)" fill="none" stroke="#222" stroke-width="0.9"/></g>
<line x1="392.0" y1="411.8" x2="407.0" y2="403.1" stroke="#1c1c1c" stroke-width="0.7" stroke-dasharray="6 2 1.5 2" stroke-linecap="butt"/>
<polygon points="379.1,437.3 380.0,436.6 380.8,435.7 381.5,434.6 381.9,433.2 382.2,431.8 382.3,430.2 382.2,428.4 381.9,426.7 381.4,424.8 380.8,422.9 380.0,421.1 379.1,419.3 378.0,417.6 376.8,416.0 375.5,414.5 374.1,413.1 372.7,412.0 371.3,411.1 369.8,410.3 368.4,409.8 367.0,409.6 365.7,409.6 364.5,409.8 363.5,410.3 358.7,413.0 357.7,413.7 356.9,414.7 356.3,415.8 355.8,417.1 355.6,418.6 355.5,420.2 355.6,421.9 355.8,423.7 356.3,425.5 357.0,427.4 357.8,429.2 358.7,431.0 359.8,432.8 361.0,434.4 362.3,435.9 363.6,437.2 365.1,438.3 366.5,439.3 367.9,440.0 369.4,440.5 370.7,440.7 372.0,440.8 373.2,440.5 374.3,440.1" fill="#fff" stroke="#1c1c1c" stroke-width="1.5" stroke-linejoin="round"/>
<ellipse cx="366.5" cy="426.5" rx="9.00" ry="15.60" transform="rotate(-30 366.5 426.5)" fill="#fff" stroke="#1c1c1c" stroke-width="1.5" />
<polygon points="374.5,440.2 375.4,439.5 376.2,438.6 376.9,437.4 377.4,436.1 377.6,434.6 377.7,433.0 377.6,431.2 377.4,429.4 376.9,427.5 376.2,425.7 375.4,423.8 374.5,422.0 373.4,420.2 372.1,418.6 370.8,417.1 369.5,415.7 368.0,414.6 366.6,413.6 365.1,412.9 363.7,412.4 362.3,412.1 361.0,412.1 359.8,412.4 358.7,412.8 353.9,415.6 352.9,416.3 352.1,417.2 351.5,418.4 351.0,419.7 350.7,421.2 350.6,422.8 350.7,424.6 351.0,426.4 351.5,428.2 352.1,430.1 352.9,432.0 353.9,433.8 355.0,435.6 356.2,437.2 357.5,438.7 358.9,440.1 360.3,441.2 361.8,442.2 363.3,442.9 364.7,443.4 366.1,443.7 367.4,443.7 368.6,443.4 369.7,443.0" fill="#fff" stroke="#1c1c1c" stroke-width="1.4" stroke-linejoin="round"/>
<ellipse cx="361.8" cy="429.3" rx="9.12" ry="15.80" transform="rotate(-30 361.8 429.3)" fill="#fff" stroke="#1c1c1c" stroke-width="1.4" />
<polyline points="371.9,441.7 373.3,440.6 374.3,438.9 374.9,436.9 375.1,434.5 374.9,431.8 374.3,429.0 373.2,426.2 371.9,423.5 370.2,420.9 368.2,418.6 366.1,416.6 364.0,415.1 361.8,414.1 359.7,413.6 357.8,413.7 356.1,414.3" fill="none" stroke="#111" stroke-width="1.3" stroke-linejoin="round"/>
<polyline points="374.5,440.2 375.9,439.1 376.9,437.4 377.5,435.4 377.7,433.0 377.5,430.3 376.9,427.5 375.8,424.7 374.5,422.0 372.8,419.4 370.8,417.1 368.7,415.1 366.6,413.6 364.4,412.6 362.3,412.1 360.4,412.2 358.7,412.8" fill="none" stroke="#111" stroke-width="1.6" stroke-linejoin="round"/>
<polyline points="377.1,438.7 378.4,437.6 379.5,435.9 380.1,433.9 380.3,431.5 380.1,428.8 379.5,426.0 378.4,423.2 377.1,420.5 375.4,417.9 373.4,415.6 371.3,413.6 369.2,412.1 367.0,411.1 364.9,410.6 363.0,410.7 361.3,411.3" fill="none" stroke="#111" stroke-width="1.2" stroke-linejoin="round"/>
<line x1="373.6" y1="440.1" x2="378.8" y2="437.1" stroke="#111" stroke-width="1.5" stroke-linecap="butt"/>
<line x1="375.0" y1="432.1" x2="380.2" y2="429.1" stroke="#111" stroke-width="1.5" stroke-linecap="butt"/>
<line x1="371.1" y1="422.3" x2="376.3" y2="419.3" stroke="#111" stroke-width="1.5" stroke-linecap="butt"/>
<line x1="364.0" y1="415.1" x2="369.2" y2="412.1" stroke="#111" stroke-width="1.5" stroke-linecap="butt"/>
<line x1="357.6" y1="413.8" x2="362.8" y2="410.8" stroke="#111" stroke-width="1.5" stroke-linecap="butt"/>
<rect x="376.6" y="430.7" width="3.2" height="4" fill="#fff" stroke="#111" stroke-width="0.8" transform="rotate(-30 378.2 432.7)"/>
<rect x="368.3" y="413.5" width="3.2" height="4" fill="#fff" stroke="#111" stroke-width="0.8" transform="rotate(-30 369.9 415.5)"/>
<ellipse cx="361.8" cy="429.3" rx="9.12" ry="15.80" transform="rotate(-30 361.8 429.3)" fill="#fff" stroke="#1c1c1c" stroke-width="1.4" />
<polygon points="367.8,439.2 368.5,438.7 369.1,438.0 369.6,437.2 369.9,436.2 370.1,435.1 370.2,433.9 370.1,432.6 369.9,431.3 369.6,429.9 369.1,428.5 368.5,427.2 367.8,425.8 367.0,424.5 366.1,423.3 365.1,422.2 364.1,421.3 363.1,420.4 362.0,419.7 360.9,419.2 359.9,418.8 358.9,418.6 357.9,418.6 357.0,418.8 356.2,419.1 349.7,422.9 349.0,423.4 348.4,424.1 347.9,424.9 347.6,425.9 347.4,427.0 347.3,428.2 347.4,429.5 347.6,430.8 347.9,432.2 348.4,433.6 349.0,434.9 349.7,436.3 350.5,437.6 351.4,438.8 352.4,439.9 353.4,440.8 354.4,441.7 355.5,442.4 356.6,442.9 357.6,443.3 358.6,443.5 359.6,443.5 360.5,443.3 361.3,443.0" fill="url(#knurlB)" stroke="#1c1c1c" stroke-width="0.9" stroke-linejoin="round"/>
<ellipse cx="355.5" cy="432.9" rx="6.69" ry="11.60" transform="rotate(-30 355.5 432.9)" fill="url(#knurlB)" stroke="#1c1c1c" stroke-width="0.9" />
<polygon points="361.1,442.3 361.7,441.8 362.3,441.2 362.7,440.4 363.1,439.5 363.3,438.4 363.3,437.3 363.3,436.1 363.1,434.9 362.7,433.6 362.3,432.3 361.7,431.0 361.1,429.7 360.3,428.5 359.5,427.4 358.6,426.3 357.6,425.4 356.6,424.6 355.6,424.0 354.6,423.5 353.6,423.1 352.7,422.9 351.8,422.9 350.9,423.1 350.2,423.4 345.9,425.9 345.2,426.4 344.6,427.1 344.2,427.8 343.9,428.8 343.7,429.8 343.6,430.9 343.7,432.1 343.9,433.4 344.2,434.7 344.6,436.0 345.2,437.2 345.9,438.5 346.6,439.7 347.4,440.8 348.4,441.9 349.3,442.8 350.3,443.6 351.3,444.3 352.3,444.8 353.3,445.1 354.3,445.3 355.2,445.3 356.0,445.1 356.8,444.8" fill="#fff" stroke="#1c1c1c" stroke-width="1.4" stroke-linejoin="round"/>
<ellipse cx="351.3" cy="435.4" rx="6.29" ry="10.90" transform="rotate(-30 351.3 435.4)" fill="#fff" stroke="#1c1c1c" stroke-width="1.4" />
<ellipse cx="351.3" cy="435.4" rx="6.29" ry="10.90" transform="rotate(-30 351.3 435.4)" fill="#fff" stroke="#111" stroke-width="1.6" />
<ellipse cx="351.3" cy="435.4" rx="4.85" ry="8.40" transform="rotate(-30 351.3 435.4)" fill="#ddd" stroke="#111" stroke-width="1.4" />
<ellipse cx="351.3" cy="435.4" rx="3.23" ry="5.60" transform="rotate(-30 351.3 435.4)" fill="#fff" stroke="#111" stroke-width="1.2" />
<ellipse cx="351.8" cy="435.2" rx="1.85" ry="3.20" transform="rotate(-30 351.8 435.2)" fill="#bbb" stroke="#222" stroke-width="0.8" />
<line x1="334.0" y1="445.4" x2="343.0" y2="440.2" stroke="#1c1c1c" stroke-width="0.8" stroke-linecap="butt"/>
<g transform="translate(314.6,456.6)">
<path d="M-21.3,-27.9 L-5.6,-37.0 L13.2,-27.5 L13.2,-27.5 C15.1,-26.0 22.0,-21.4 24.9,-18.1 C27.8,-14.8 29.7,-10.6 30.7,-7.5 C31.7,-4.4 31.7,-1.8 30.9,0.7 C30.1,3.2 29.1,5.2 26.0,7.7 C22.9,10.2 15.7,14.1 12.0,15.9 C8.3,17.7 5.3,18.2 4.0,18.6 L4.0,18.6 C2.3,17.8 -3.2,17.1 -6.0,14.0 C-8.8,10.9 -11.8,4.4 -12.5,0.0 C-13.2,-4.4 -10.4,-9.4 -10.2,-12.2 C-10.0,-15.0 -10.6,-15.3 -11.4,-16.9 C-12.2,-18.4 -13.3,-20.2 -14.9,-21.5 C-16.5,-22.8 -19.8,-23.9 -20.8,-24.4 Z" fill="#fff" stroke="#222" stroke-width="1.15" stroke-linejoin="round"/>
<path d="M-20.8,-24.4 C-18.9,-23.6 -13.0,-21.4 -9.1,-19.7 C-5.2,-18.1 -0.9,-16.5 2.6,-14.5 C6.1,-12.5 9.8,-10.4 12.0,-7.5 C14.2,-4.6 15.4,-0.3 15.6,3.0 C15.8,6.3 14.6,10.0 13.4,12.4 C12.2,14.8 9.3,16.4 8.5,17.2" fill="none" stroke="#222" stroke-width="0.9"/>
<path d="M-19.6,-26.0 C-17.7,-25.2 -12.0,-23.0 -8.1,-21.3 C-4.2,-19.7 0.3,-18.2 4.0,-16.0 C7.7,-13.8 11.9,-11.5 14.2,-8.3 C16.5,-5.1 17.7,-0.5 17.9,3.0 C18.1,6.5 16.8,10.5 15.6,12.8 C14.4,15.1 11.8,16.3 11.0,17.0" fill="none" stroke="#555" stroke-width="0.7"/>
<g transform="translate(-2.6,0.8) rotate(24)"><rect x="-18.6" y="-28.2" width="28.0" height="9.6" rx="4.8" fill="#fff" stroke="#222" stroke-width="1.1"/><rect x="-16.8" y="-26.6" width="24.4" height="6.4" rx="3.2" fill="none" stroke="#333" stroke-width="0.8"/><ellipse cx="3.8" cy="-23.4" rx="5.6" ry="3.7" fill="#f4f4f4" stroke="#222" stroke-width="1.1"/></g>
</g>
<ellipse cx="314.6" cy="456.6" rx="11.31" ry="19.60" transform="rotate(-30 314.6 456.6)" fill="#fff" stroke="#222" stroke-width="1.6" />
<ellipse cx="315.2" cy="456.4" rx="10.16" ry="17.60" transform="rotate(-30 315.2 456.4)" fill="#fff" stroke="#222" stroke-width="1.0" />
<ellipse cx="316.4" cy="455.6" rx="8.77" ry="15.20" transform="rotate(-30 316.4 455.6)" fill="none" stroke="#777" stroke-width="0.6" />
<ellipse cx="317.6" cy="454.3" rx="1.9" ry="2.6" transform="rotate(-30 317.6 454.3)" fill="#111"/>
<rect x="306.7" y="440.7" width="2.4" height="3.2" fill="#fff" stroke="#222" stroke-width="0.7" transform="rotate(-30 307.9 442.3)"/>
<rect x="308.2" y="448.2" width="2.4" height="3.2" fill="#fff" stroke="#222" stroke-width="0.7" transform="rotate(-30 309.4 449.8)"/>
<rect x="323.2" y="466.3" width="2.4" height="3.2" fill="#fff" stroke="#222" stroke-width="0.7" transform="rotate(-30 324.4 467.9)"/>
<rect x="325.4" y="459.4" width="2.4" height="3.2" fill="#fff" stroke="#222" stroke-width="0.7" transform="rotate(-30 326.6 461.0)"/>
<path d="M290.2,466.2 L296.6,464.6 L300.2,465.4 L298.4,468.6 L292.8,471.4 L289.6,470.0 Z" fill="#222" stroke="#111" stroke-width="1.0" stroke-linejoin="round"/>
<ellipse cx="291.6" cy="468.6" rx="1.7" ry="2.8" transform="rotate(-30 291.6 468.6)" fill="#ddd" stroke="#111" stroke-width="1.2"/>
<path d="M294.6,467.0 L297.4,466.2" stroke="#ddd" stroke-width="0.8" fill="none"/>
<line x1="299.4" y1="465.8" x2="315.0" y2="456.2" stroke="#1c1c1c" stroke-width="0.9" stroke-linecap="butt"/>
<line x1="284.5" y1="474.5" x2="289.5" y2="471.4" stroke="#1c1c1c" stroke-width="0.9" stroke-linecap="butt"/>
<rect x="275.8" y="463.1" width="3.0" height="3.2" fill="#fff" stroke="#222" stroke-width="0.9" transform="rotate(-30 277.3 464.7)"/>
<rect x="286.0" y="483.5" width="2.2" height="3.6" fill="#fff" stroke="#222" stroke-width="0.9" transform="rotate(-30 287.1 485.3)"/>
<ellipse cx="273.1" cy="480.6" rx="10.96" ry="19.00" transform="rotate(-30 273.1 480.6)" fill="#fff" stroke="#222" stroke-width="1.3" />
<polyline points="280.3,498.2 281.7,497.5 283.0,496.6 284.0,495.3 284.8,493.8 285.3,492.0 285.6,489.9 285.6,487.7 285.3,485.4 284.8,482.9 284.0,480.5 282.9,478.0 281.7,475.6 280.2,473.3 278.6,471.2 276.9,469.3 275.1,467.6 273.2,466.2 271.3,465.1 269.4,464.3 267.5,463.9 265.8,463.8 264.2,464.0 262.7,464.6 261.5,465.6" fill="none" stroke="#333" stroke-width="0.9" stroke-linejoin="round"/>
<line x1="473.6" y1="503.5" x2="482.5" y2="498.4" stroke="#1c1c1c" stroke-width="0.8" stroke-linecap="butt"/>
<polygon points="474.1,518.4 475.0,517.7 475.8,516.8 476.4,515.7 476.9,514.4 477.1,513.0 477.2,511.4 477.1,509.7 476.9,507.9 476.4,506.1 475.8,504.3 475.0,502.4 474.1,500.7 473.0,499.0 471.8,497.4 470.5,495.9 469.2,494.6 467.8,493.5 466.4,492.5 464.9,491.8 463.5,491.3 462.2,491.1 460.9,491.1 459.7,491.3 458.7,491.8 452.6,495.3 451.7,496.0 450.9,496.9 450.2,498.0 449.8,499.3 449.5,500.7 449.4,502.3 449.5,504.0 449.8,505.8 450.2,507.6 450.9,509.4 451.7,511.3 452.6,513.0 453.7,514.7 454.9,516.3 456.1,517.8 457.5,519.1 458.9,520.2 460.3,521.2 461.7,521.9 463.1,522.4 464.5,522.6 465.7,522.6 466.9,522.4 468.0,521.9" fill="#fff" stroke="#1c1c1c" stroke-width="1.1" stroke-linejoin="round"/>
<ellipse cx="460.3" cy="508.6" rx="8.89" ry="15.40" transform="rotate(-30 460.3 508.6)" fill="#fff" stroke="#1c1c1c" stroke-width="1.1" />
<line x1="469.7" y1="520.3" x2="475.8" y2="516.8" stroke="#1c1c1c" stroke-width="0.8" stroke-linecap="butt"/>
<line x1="471.2" y1="514.2" x2="477.2" y2="510.7" stroke="#1c1c1c" stroke-width="0.8" stroke-linecap="butt"/>
<line x1="469.0" y1="506.1" x2="475.0" y2="502.6" stroke="#1c1c1c" stroke-width="0.8" stroke-linecap="butt"/>
<line x1="463.8" y1="498.8" x2="469.9" y2="495.3" stroke="#1c1c1c" stroke-width="0.8" stroke-linecap="butt"/>
<line x1="457.5" y1="494.8" x2="463.5" y2="491.3" stroke="#1c1c1c" stroke-width="0.8" stroke-linecap="butt"/>
<polyline points="469.9,520.8 470.8,520.1 471.6,519.2 472.3,518.1 472.7,516.8 473.0,515.4 473.1,513.8 473.0,512.1 472.7,510.3 472.3,508.5 471.6,506.7 470.8,504.8 469.9,503.1 468.8,501.4 467.6,499.8 466.4,498.3 465.0,497.0 463.6,495.9 462.2,494.9 460.8,494.2 459.4,493.7 458.0,493.5 456.8,493.5 455.6,493.7 454.5,494.2" fill="none" stroke="#444" stroke-width="0.7" stroke-linejoin="round"/>
<polygon points="467.6,521.2 468.5,520.6 469.2,519.7 469.8,518.7 470.3,517.4 470.5,516.1 470.6,514.6 470.5,513.0 470.3,511.3 469.8,509.5 469.2,507.8 468.5,506.1 467.6,504.4 466.6,502.8 465.5,501.3 464.2,499.9 463.0,498.6 461.6,497.6 460.3,496.7 458.9,496.0 457.6,495.5 456.3,495.3 455.1,495.3 454.0,495.5 453.0,496.0 451.7,496.7 450.8,497.4 450.1,498.2 449.5,499.3 449.0,500.5 448.8,501.9 448.7,503.4 448.8,505.0 449.0,506.7 449.5,508.4 450.1,510.1 450.8,511.9 451.7,513.6 452.7,515.2 453.8,516.7 455.0,518.1 456.3,519.3 457.7,520.4 459.0,521.3 460.3,521.9 461.7,522.4 462.9,522.6 464.2,522.7 465.3,522.4 466.3,522.0" fill="#fff" stroke="#1c1c1c" stroke-width="0.8" stroke-linejoin="round"/>
<ellipse cx="459.0" cy="509.4" rx="8.42" ry="14.60" transform="rotate(-30 459.0 509.4)" fill="#fff" stroke="#1c1c1c" stroke-width="0.8" />
<polygon points="466.4,521.2 467.3,520.6 468.0,519.8 468.6,518.8 469.0,517.6 469.2,516.3 469.3,514.8 469.2,513.3 469.0,511.7 468.6,510.0 468.0,508.3 467.3,506.7 466.4,505.1 465.4,503.5 464.4,502.1 463.2,500.7 462.0,499.5 460.7,498.5 459.4,497.7 458.1,497.0 456.9,496.6 455.6,496.4 454.5,496.3 453.4,496.6 452.4,497.0 404.8,524.5 403.9,525.1 403.2,525.9 402.7,526.9 402.2,528.1 402.0,529.4 401.9,530.9 402.0,532.4 402.2,534.0 402.7,535.7 403.2,537.4 403.9,539.0 404.8,540.6 405.8,542.2 406.9,543.6 408.0,545.0 409.2,546.2 410.5,547.2 411.8,548.0 413.1,548.7 414.4,549.1 415.6,549.3 416.7,549.4 417.8,549.1 418.8,548.7" fill="#fff" stroke="#1c1c1c" stroke-width="1.0" stroke-linejoin="round"/>
<ellipse cx="411.8" cy="536.6" rx="8.08" ry="14.00" transform="rotate(-30 411.8 536.6)" fill="#fff" stroke="#1c1c1c" stroke-width="1.0" />
<polygon points="396.6,529.8 403.3,524.4 411.6,520.0 414.6,520.4 424.6,533.1 424.6,547.0 420.1,550.0 411.8,554.4 406.1,553.3 396.8,542.8" fill="#fff" stroke="#1c1c1c" stroke-width="1.1" stroke-linejoin="round"/>
<line x1="411.6" y1="520.0" x2="403.3" y2="524.4" stroke="#1c1c1c" stroke-width="0.8" stroke-linecap="butt"/>
<line x1="414.6" y1="520.4" x2="406.3" y2="524.8" stroke="#1c1c1c" stroke-width="0.8" stroke-linecap="butt"/>
<line x1="424.6" y1="533.1" x2="416.3" y2="537.5" stroke="#1c1c1c" stroke-width="0.8" stroke-linecap="butt"/>
<line x1="424.6" y1="547.0" x2="416.3" y2="551.4" stroke="#1c1c1c" stroke-width="0.8" stroke-linecap="butt"/>
<line x1="420.1" y1="550.0" x2="411.8" y2="554.4" stroke="#1c1c1c" stroke-width="0.8" stroke-linecap="butt"/>
<polyline points="408.7,521.5 411.7,521.9 421.7,534.6 421.7,548.5 417.2,551.5" fill="none" stroke="#1c1c1c" stroke-width="0.8" stroke-linejoin="round"/>
<polygon points="396.6,529.8 403.3,524.4 406.3,524.8 416.3,537.5 416.3,551.4 411.8,554.4 406.1,553.3 396.8,542.8" fill="#fff" stroke="#1c1c1c" stroke-width="1.5" stroke-linejoin="round"/>
<polygon points="398.6,531.8 404.0,527.5 406.4,527.8 414.4,538.0 414.4,549.1 410.8,551.5 406.2,550.6 398.8,542.2" fill="#fff" stroke="#1c1c1c" stroke-width="1.2" stroke-linejoin="round"/>
<clipPath id="cphex"><polygon points="398.6,531.8 404.0,527.5 406.4,527.8 414.4,538.0 414.4,549.1 410.8,551.5 406.2,550.6 398.8,542.2"/></clipPath>
<g clip-path="url(#cphex)"><polygon points="401.8,530.0 407.2,525.7 409.6,526.0 417.6,536.2 417.6,547.3 414.0,549.7 409.4,548.8 402.0,540.4" fill="none" stroke="#444" stroke-width="0.7"/></g>
<rect x="418.0" y="520.3" width="2.0" height="1.6" fill="#111" transform="rotate(-30 419 521.1)"/>
<rect x="450.9" y="501.4" width="2.0" height="1.6" fill="#111" transform="rotate(-30 451.9 502.2)"/>
<line x1="434.4" y1="507.2" x2="445.6" y2="513.2" stroke="#111" stroke-width="3.2" stroke-dasharray="1.3 0.6" stroke-linecap="butt"/>
<ellipse cx="443.4" cy="530.1" rx="2.2" ry="3.6" transform="rotate(28 443.4 530.1)" fill="#fff" stroke="#222" stroke-width="0.9"/>
</svg>
</body></html>
